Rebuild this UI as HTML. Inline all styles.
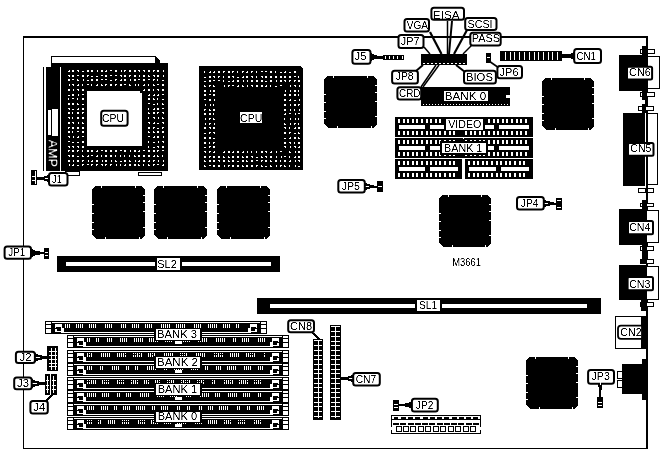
<!DOCTYPE html><html><head><meta charset="utf-8"><style>
html,body{margin:0;padding:0;background:#fff;width:661px;height:451px;overflow:hidden}
svg{display:block;will-change:transform}
text{font-family:"Liberation Sans",sans-serif}
</style></head><body>
<svg width="661" height="451" viewBox="0 0 661 451" shape-rendering="crispEdges">
<defs><filter id="th" x="-10%" y="-30%" width="120%" height="160%"><feComponentTransfer><feFuncA type="linear" slope="2" intercept="-0.5"/></feComponentTransfer></filter></defs>
<rect x="23" y="36" width="625" height="2" fill="#000"/>
<rect x="23" y="36" width="1" height="413" fill="#000"/>
<rect x="23" y="448" width="625" height="1" fill="#000"/>
<rect x="646" y="36" width="2" height="413" fill="#000"/>
<rect x="51" y="56" width="105" height="8" fill="#000"/>
<rect x="52" y="57" width="103" height="6" fill="#fff"/>
<polygon points="155,56 160,61 160,64 155,64" fill="#000"/>
<rect x="64" y="63" width="104" height="108" fill="#000"/>
<rect x="51" y="63" width="13" height="4" fill="#000"/>
<rect x="43" y="67" width="1" height="104" fill="#000"/>
<rect x="46" y="67" width="14" height="104" fill="#000"/>
<rect x="61" y="67" width="3" height="104" fill="#000"/>
<rect x="48" y="110" width="3" height="25" fill="#fff"/>
<rect x="52" y="109" width="6" height="27" fill="#fff"/>
<text x="53" y="153.4" font-size="13.2" fill="#fff" text-anchor="middle" filter="url(#th)" transform="rotate(90 53 153.4)" dy="4.75" textLength="27.5" lengthAdjust="spacingAndGlyphs">AMP</text>
<rect x="69" y="70" width="1" height="1" fill="#fff"/>
<rect x="68" y="71" width="1" height="1" fill="#fff"/>
<rect x="69" y="71" width="1" height="1" fill="#fff"/>
<rect x="72" y="70" width="2" height="2" fill="#fff"/>
<rect x="77" y="70" width="1" height="1" fill="#fff"/>
<rect x="78" y="70" width="1" height="1" fill="#fff"/>
<rect x="78" y="71" width="1" height="1" fill="#fff"/>
<rect x="82" y="71" width="1" height="1" fill="#fff"/>
<rect x="83" y="71" width="1" height="1" fill="#fff"/>
<rect x="87" y="70" width="2" height="2" fill="#fff"/>
<rect x="91" y="70" width="2" height="2" fill="#fff"/>
<rect x="97" y="70" width="1" height="1" fill="#fff"/>
<rect x="97" y="71" width="1" height="1" fill="#fff"/>
<rect x="101" y="70" width="2" height="2" fill="#fff"/>
<rect x="106" y="70" width="1" height="1" fill="#fff"/>
<rect x="105" y="71" width="1" height="1" fill="#fff"/>
<rect x="106" y="71" width="1" height="1" fill="#fff"/>
<rect x="110" y="70" width="1" height="1" fill="#fff"/>
<rect x="111" y="70" width="1" height="1" fill="#fff"/>
<rect x="115" y="70" width="2" height="2" fill="#fff"/>
<rect x="121" y="70" width="1" height="1" fill="#fff"/>
<rect x="121" y="71" width="1" height="1" fill="#fff"/>
<rect x="124" y="70" width="1" height="1" fill="#fff"/>
<rect x="125" y="70" width="1" height="1" fill="#fff"/>
<rect x="124" y="71" width="1" height="1" fill="#fff"/>
<rect x="129" y="70" width="2" height="2" fill="#fff"/>
<rect x="134" y="70" width="2" height="2" fill="#fff"/>
<rect x="138" y="70" width="1" height="1" fill="#fff"/>
<rect x="139" y="70" width="1" height="1" fill="#fff"/>
<rect x="139" y="71" width="1" height="1" fill="#fff"/>
<rect x="143" y="70" width="1" height="1" fill="#fff"/>
<rect x="144" y="70" width="1" height="1" fill="#fff"/>
<rect x="144" y="71" width="1" height="1" fill="#fff"/>
<rect x="148" y="70" width="2" height="2" fill="#fff"/>
<rect x="153" y="70" width="1" height="1" fill="#fff"/>
<rect x="154" y="70" width="1" height="1" fill="#fff"/>
<rect x="153" y="71" width="1" height="1" fill="#fff"/>
<rect x="157" y="70" width="2" height="2" fill="#fff"/>
<rect x="163" y="70" width="1" height="1" fill="#fff"/>
<rect x="163" y="71" width="1" height="1" fill="#fff"/>
<rect x="68" y="75" width="1" height="1" fill="#fff"/>
<rect x="69" y="75" width="1" height="1" fill="#fff"/>
<rect x="69" y="76" width="1" height="1" fill="#fff"/>
<rect x="72" y="75" width="2" height="2" fill="#fff"/>
<rect x="77" y="75" width="1" height="1" fill="#fff"/>
<rect x="78" y="75" width="1" height="1" fill="#fff"/>
<rect x="82" y="75" width="2" height="2" fill="#fff"/>
<rect x="87" y="75" width="1" height="1" fill="#fff"/>
<rect x="88" y="75" width="1" height="1" fill="#fff"/>
<rect x="87" y="76" width="1" height="1" fill="#fff"/>
<rect x="91" y="76" width="1" height="1" fill="#fff"/>
<rect x="92" y="76" width="1" height="1" fill="#fff"/>
<rect x="96" y="76" width="1" height="1" fill="#fff"/>
<rect x="97" y="76" width="1" height="1" fill="#fff"/>
<rect x="101" y="75" width="1" height="1" fill="#fff"/>
<rect x="102" y="75" width="1" height="1" fill="#fff"/>
<rect x="105" y="75" width="2" height="2" fill="#fff"/>
<rect x="110" y="75" width="1" height="1" fill="#fff"/>
<rect x="111" y="75" width="1" height="1" fill="#fff"/>
<rect x="115" y="75" width="1" height="1" fill="#fff"/>
<rect x="116" y="75" width="1" height="1" fill="#fff"/>
<rect x="120" y="75" width="1" height="1" fill="#fff"/>
<rect x="121" y="75" width="1" height="1" fill="#fff"/>
<rect x="121" y="76" width="1" height="1" fill="#fff"/>
<rect x="124" y="75" width="2" height="2" fill="#fff"/>
<rect x="129" y="75" width="1" height="1" fill="#fff"/>
<rect x="130" y="75" width="1" height="1" fill="#fff"/>
<rect x="129" y="76" width="1" height="1" fill="#fff"/>
<rect x="134" y="75" width="2" height="2" fill="#fff"/>
<rect x="139" y="75" width="1" height="1" fill="#fff"/>
<rect x="139" y="76" width="1" height="1" fill="#fff"/>
<rect x="143" y="75" width="2" height="2" fill="#fff"/>
<rect x="148" y="75" width="1" height="1" fill="#fff"/>
<rect x="148" y="76" width="1" height="1" fill="#fff"/>
<rect x="149" y="76" width="1" height="1" fill="#fff"/>
<rect x="153" y="75" width="1" height="1" fill="#fff"/>
<rect x="154" y="75" width="1" height="1" fill="#fff"/>
<rect x="154" y="76" width="1" height="1" fill="#fff"/>
<rect x="157" y="75" width="2" height="2" fill="#fff"/>
<rect x="163" y="75" width="1" height="1" fill="#fff"/>
<rect x="163" y="76" width="1" height="1" fill="#fff"/>
<rect x="68" y="79" width="2" height="2" fill="#fff"/>
<rect x="72" y="79" width="1" height="1" fill="#fff"/>
<rect x="73" y="79" width="1" height="1" fill="#fff"/>
<rect x="77" y="79" width="1" height="1" fill="#fff"/>
<rect x="77" y="80" width="1" height="1" fill="#fff"/>
<rect x="78" y="80" width="1" height="1" fill="#fff"/>
<rect x="83" y="79" width="1" height="1" fill="#fff"/>
<rect x="83" y="80" width="1" height="1" fill="#fff"/>
<rect x="87" y="80" width="1" height="1" fill="#fff"/>
<rect x="88" y="80" width="1" height="1" fill="#fff"/>
<rect x="91" y="79" width="2" height="2" fill="#fff"/>
<rect x="96" y="79" width="2" height="2" fill="#fff"/>
<rect x="101" y="79" width="1" height="1" fill="#fff"/>
<rect x="102" y="79" width="1" height="1" fill="#fff"/>
<rect x="105" y="79" width="1" height="1" fill="#fff"/>
<rect x="106" y="79" width="1" height="1" fill="#fff"/>
<rect x="110" y="80" width="1" height="1" fill="#fff"/>
<rect x="111" y="80" width="1" height="1" fill="#fff"/>
<rect x="115" y="79" width="1" height="1" fill="#fff"/>
<rect x="116" y="79" width="1" height="1" fill="#fff"/>
<rect x="115" y="80" width="1" height="1" fill="#fff"/>
<rect x="121" y="79" width="1" height="1" fill="#fff"/>
<rect x="120" y="80" width="1" height="1" fill="#fff"/>
<rect x="121" y="80" width="1" height="1" fill="#fff"/>
<rect x="124" y="79" width="2" height="2" fill="#fff"/>
<rect x="130" y="79" width="1" height="1" fill="#fff"/>
<rect x="130" y="80" width="1" height="1" fill="#fff"/>
<rect x="134" y="79" width="2" height="2" fill="#fff"/>
<rect x="138" y="79" width="1" height="1" fill="#fff"/>
<rect x="139" y="79" width="1" height="1" fill="#fff"/>
<rect x="143" y="79" width="2" height="2" fill="#fff"/>
<rect x="148" y="79" width="1" height="1" fill="#fff"/>
<rect x="149" y="79" width="1" height="1" fill="#fff"/>
<rect x="153" y="79" width="1" height="1" fill="#fff"/>
<rect x="154" y="79" width="1" height="1" fill="#fff"/>
<rect x="153" y="80" width="1" height="1" fill="#fff"/>
<rect x="157" y="79" width="1" height="1" fill="#fff"/>
<rect x="157" y="80" width="1" height="1" fill="#fff"/>
<rect x="162" y="80" width="1" height="1" fill="#fff"/>
<rect x="163" y="80" width="1" height="1" fill="#fff"/>
<rect x="69" y="84" width="1" height="1" fill="#fff"/>
<rect x="69" y="85" width="1" height="1" fill="#fff"/>
<rect x="72" y="84" width="1" height="1" fill="#fff"/>
<rect x="73" y="84" width="1" height="1" fill="#fff"/>
<rect x="73" y="85" width="1" height="1" fill="#fff"/>
<rect x="78" y="84" width="1" height="1" fill="#fff"/>
<rect x="77" y="85" width="1" height="1" fill="#fff"/>
<rect x="78" y="85" width="1" height="1" fill="#fff"/>
<rect x="82" y="84" width="1" height="1" fill="#fff"/>
<rect x="82" y="85" width="1" height="1" fill="#fff"/>
<rect x="87" y="84" width="1" height="1" fill="#fff"/>
<rect x="88" y="84" width="1" height="1" fill="#fff"/>
<rect x="91" y="84" width="1" height="1" fill="#fff"/>
<rect x="91" y="85" width="1" height="1" fill="#fff"/>
<rect x="97" y="84" width="1" height="1" fill="#fff"/>
<rect x="96" y="85" width="1" height="1" fill="#fff"/>
<rect x="97" y="85" width="1" height="1" fill="#fff"/>
<rect x="101" y="84" width="1" height="1" fill="#fff"/>
<rect x="101" y="85" width="1" height="1" fill="#fff"/>
<rect x="102" y="85" width="1" height="1" fill="#fff"/>
<rect x="105" y="84" width="1" height="1" fill="#fff"/>
<rect x="106" y="84" width="1" height="1" fill="#fff"/>
<rect x="105" y="85" width="1" height="1" fill="#fff"/>
<rect x="110" y="84" width="2" height="2" fill="#fff"/>
<rect x="115" y="84" width="1" height="1" fill="#fff"/>
<rect x="116" y="84" width="1" height="1" fill="#fff"/>
<rect x="115" y="85" width="1" height="1" fill="#fff"/>
<rect x="120" y="84" width="2" height="2" fill="#fff"/>
<rect x="124" y="84" width="1" height="1" fill="#fff"/>
<rect x="125" y="84" width="1" height="1" fill="#fff"/>
<rect x="129" y="84" width="1" height="1" fill="#fff"/>
<rect x="129" y="85" width="1" height="1" fill="#fff"/>
<rect x="130" y="85" width="1" height="1" fill="#fff"/>
<rect x="135" y="84" width="1" height="1" fill="#fff"/>
<rect x="135" y="85" width="1" height="1" fill="#fff"/>
<rect x="138" y="84" width="1" height="1" fill="#fff"/>
<rect x="138" y="85" width="1" height="1" fill="#fff"/>
<rect x="144" y="84" width="1" height="1" fill="#fff"/>
<rect x="143" y="85" width="1" height="1" fill="#fff"/>
<rect x="144" y="85" width="1" height="1" fill="#fff"/>
<rect x="148" y="84" width="1" height="1" fill="#fff"/>
<rect x="148" y="85" width="1" height="1" fill="#fff"/>
<rect x="153" y="84" width="1" height="1" fill="#fff"/>
<rect x="153" y="85" width="1" height="1" fill="#fff"/>
<rect x="154" y="85" width="1" height="1" fill="#fff"/>
<rect x="157" y="84" width="1" height="1" fill="#fff"/>
<rect x="158" y="84" width="1" height="1" fill="#fff"/>
<rect x="162" y="84" width="2" height="2" fill="#fff"/>
<rect x="68" y="89" width="2" height="2" fill="#fff"/>
<rect x="73" y="89" width="1" height="1" fill="#fff"/>
<rect x="73" y="90" width="1" height="1" fill="#fff"/>
<rect x="77" y="89" width="1" height="1" fill="#fff"/>
<rect x="78" y="89" width="1" height="1" fill="#fff"/>
<rect x="78" y="90" width="1" height="1" fill="#fff"/>
<rect x="82" y="89" width="2" height="2" fill="#fff"/>
<rect x="144" y="89" width="1" height="1" fill="#fff"/>
<rect x="143" y="90" width="1" height="1" fill="#fff"/>
<rect x="144" y="90" width="1" height="1" fill="#fff"/>
<rect x="148" y="89" width="2" height="2" fill="#fff"/>
<rect x="153" y="89" width="1" height="1" fill="#fff"/>
<rect x="153" y="90" width="1" height="1" fill="#fff"/>
<rect x="157" y="89" width="1" height="1" fill="#fff"/>
<rect x="158" y="89" width="1" height="1" fill="#fff"/>
<rect x="158" y="90" width="1" height="1" fill="#fff"/>
<rect x="162" y="89" width="2" height="2" fill="#fff"/>
<rect x="68" y="95" width="1" height="1" fill="#fff"/>
<rect x="69" y="95" width="1" height="1" fill="#fff"/>
<rect x="72" y="94" width="2" height="2" fill="#fff"/>
<rect x="78" y="94" width="1" height="1" fill="#fff"/>
<rect x="78" y="95" width="1" height="1" fill="#fff"/>
<rect x="82" y="94" width="1" height="1" fill="#fff"/>
<rect x="83" y="94" width="1" height="1" fill="#fff"/>
<rect x="149" y="94" width="1" height="1" fill="#fff"/>
<rect x="148" y="95" width="1" height="1" fill="#fff"/>
<rect x="149" y="95" width="1" height="1" fill="#fff"/>
<rect x="154" y="94" width="1" height="1" fill="#fff"/>
<rect x="153" y="95" width="1" height="1" fill="#fff"/>
<rect x="154" y="95" width="1" height="1" fill="#fff"/>
<rect x="158" y="94" width="1" height="1" fill="#fff"/>
<rect x="157" y="95" width="1" height="1" fill="#fff"/>
<rect x="158" y="95" width="1" height="1" fill="#fff"/>
<rect x="162" y="94" width="1" height="1" fill="#fff"/>
<rect x="163" y="94" width="1" height="1" fill="#fff"/>
<rect x="68" y="98" width="1" height="1" fill="#fff"/>
<rect x="68" y="99" width="1" height="1" fill="#fff"/>
<rect x="72" y="98" width="1" height="1" fill="#fff"/>
<rect x="73" y="98" width="1" height="1" fill="#fff"/>
<rect x="77" y="98" width="1" height="1" fill="#fff"/>
<rect x="77" y="99" width="1" height="1" fill="#fff"/>
<rect x="82" y="98" width="2" height="2" fill="#fff"/>
<rect x="148" y="98" width="2" height="2" fill="#fff"/>
<rect x="153" y="98" width="1" height="1" fill="#fff"/>
<rect x="153" y="99" width="1" height="1" fill="#fff"/>
<rect x="154" y="99" width="1" height="1" fill="#fff"/>
<rect x="157" y="98" width="1" height="1" fill="#fff"/>
<rect x="157" y="99" width="1" height="1" fill="#fff"/>
<rect x="162" y="99" width="1" height="1" fill="#fff"/>
<rect x="163" y="99" width="1" height="1" fill="#fff"/>
<rect x="68" y="103" width="2" height="2" fill="#fff"/>
<rect x="72" y="103" width="2" height="2" fill="#fff"/>
<rect x="77" y="103" width="1" height="1" fill="#fff"/>
<rect x="77" y="104" width="1" height="1" fill="#fff"/>
<rect x="78" y="104" width="1" height="1" fill="#fff"/>
<rect x="82" y="104" width="1" height="1" fill="#fff"/>
<rect x="83" y="104" width="1" height="1" fill="#fff"/>
<rect x="148" y="103" width="1" height="1" fill="#fff"/>
<rect x="149" y="103" width="1" height="1" fill="#fff"/>
<rect x="153" y="104" width="1" height="1" fill="#fff"/>
<rect x="154" y="104" width="1" height="1" fill="#fff"/>
<rect x="157" y="103" width="1" height="1" fill="#fff"/>
<rect x="157" y="104" width="1" height="1" fill="#fff"/>
<rect x="162" y="103" width="1" height="1" fill="#fff"/>
<rect x="162" y="104" width="1" height="1" fill="#fff"/>
<rect x="163" y="104" width="1" height="1" fill="#fff"/>
<rect x="68" y="108" width="1" height="1" fill="#fff"/>
<rect x="69" y="108" width="1" height="1" fill="#fff"/>
<rect x="69" y="109" width="1" height="1" fill="#fff"/>
<rect x="72" y="109" width="1" height="1" fill="#fff"/>
<rect x="73" y="109" width="1" height="1" fill="#fff"/>
<rect x="78" y="108" width="1" height="1" fill="#fff"/>
<rect x="77" y="109" width="1" height="1" fill="#fff"/>
<rect x="78" y="109" width="1" height="1" fill="#fff"/>
<rect x="82" y="108" width="2" height="2" fill="#fff"/>
<rect x="148" y="108" width="1" height="1" fill="#fff"/>
<rect x="148" y="109" width="1" height="1" fill="#fff"/>
<rect x="154" y="108" width="1" height="1" fill="#fff"/>
<rect x="153" y="109" width="1" height="1" fill="#fff"/>
<rect x="154" y="109" width="1" height="1" fill="#fff"/>
<rect x="157" y="108" width="2" height="2" fill="#fff"/>
<rect x="162" y="108" width="1" height="1" fill="#fff"/>
<rect x="163" y="108" width="1" height="1" fill="#fff"/>
<rect x="68" y="112" width="2" height="2" fill="#fff"/>
<rect x="72" y="112" width="1" height="1" fill="#fff"/>
<rect x="72" y="113" width="1" height="1" fill="#fff"/>
<rect x="77" y="112" width="2" height="2" fill="#fff"/>
<rect x="82" y="112" width="1" height="1" fill="#fff"/>
<rect x="83" y="112" width="1" height="1" fill="#fff"/>
<rect x="82" y="113" width="1" height="1" fill="#fff"/>
<rect x="148" y="112" width="1" height="1" fill="#fff"/>
<rect x="148" y="113" width="1" height="1" fill="#fff"/>
<rect x="149" y="113" width="1" height="1" fill="#fff"/>
<rect x="153" y="112" width="2" height="2" fill="#fff"/>
<rect x="157" y="112" width="1" height="1" fill="#fff"/>
<rect x="158" y="112" width="1" height="1" fill="#fff"/>
<rect x="157" y="113" width="1" height="1" fill="#fff"/>
<rect x="162" y="112" width="1" height="1" fill="#fff"/>
<rect x="163" y="112" width="1" height="1" fill="#fff"/>
<rect x="163" y="113" width="1" height="1" fill="#fff"/>
<rect x="68" y="117" width="1" height="1" fill="#fff"/>
<rect x="69" y="117" width="1" height="1" fill="#fff"/>
<rect x="69" y="118" width="1" height="1" fill="#fff"/>
<rect x="72" y="117" width="1" height="1" fill="#fff"/>
<rect x="72" y="118" width="1" height="1" fill="#fff"/>
<rect x="77" y="117" width="2" height="2" fill="#fff"/>
<rect x="82" y="117" width="2" height="2" fill="#fff"/>
<rect x="148" y="117" width="1" height="1" fill="#fff"/>
<rect x="148" y="118" width="1" height="1" fill="#fff"/>
<rect x="153" y="117" width="1" height="1" fill="#fff"/>
<rect x="154" y="117" width="1" height="1" fill="#fff"/>
<rect x="154" y="118" width="1" height="1" fill="#fff"/>
<rect x="158" y="117" width="1" height="1" fill="#fff"/>
<rect x="158" y="118" width="1" height="1" fill="#fff"/>
<rect x="162" y="117" width="1" height="1" fill="#fff"/>
<rect x="162" y="118" width="1" height="1" fill="#fff"/>
<rect x="163" y="118" width="1" height="1" fill="#fff"/>
<rect x="68" y="122" width="2" height="2" fill="#fff"/>
<rect x="72" y="122" width="1" height="1" fill="#fff"/>
<rect x="73" y="122" width="1" height="1" fill="#fff"/>
<rect x="73" y="123" width="1" height="1" fill="#fff"/>
<rect x="78" y="122" width="1" height="1" fill="#fff"/>
<rect x="78" y="123" width="1" height="1" fill="#fff"/>
<rect x="82" y="122" width="1" height="1" fill="#fff"/>
<rect x="82" y="123" width="1" height="1" fill="#fff"/>
<rect x="83" y="123" width="1" height="1" fill="#fff"/>
<rect x="148" y="122" width="1" height="1" fill="#fff"/>
<rect x="149" y="122" width="1" height="1" fill="#fff"/>
<rect x="149" y="123" width="1" height="1" fill="#fff"/>
<rect x="154" y="122" width="1" height="1" fill="#fff"/>
<rect x="153" y="123" width="1" height="1" fill="#fff"/>
<rect x="154" y="123" width="1" height="1" fill="#fff"/>
<rect x="157" y="123" width="1" height="1" fill="#fff"/>
<rect x="158" y="123" width="1" height="1" fill="#fff"/>
<rect x="162" y="122" width="1" height="1" fill="#fff"/>
<rect x="163" y="122" width="1" height="1" fill="#fff"/>
<rect x="163" y="123" width="1" height="1" fill="#fff"/>
<rect x="68" y="127" width="1" height="1" fill="#fff"/>
<rect x="69" y="127" width="1" height="1" fill="#fff"/>
<rect x="68" y="128" width="1" height="1" fill="#fff"/>
<rect x="72" y="127" width="2" height="2" fill="#fff"/>
<rect x="77" y="127" width="2" height="2" fill="#fff"/>
<rect x="82" y="127" width="2" height="2" fill="#fff"/>
<rect x="148" y="127" width="2" height="2" fill="#fff"/>
<rect x="153" y="127" width="1" height="1" fill="#fff"/>
<rect x="154" y="127" width="1" height="1" fill="#fff"/>
<rect x="153" y="128" width="1" height="1" fill="#fff"/>
<rect x="157" y="128" width="1" height="1" fill="#fff"/>
<rect x="158" y="128" width="1" height="1" fill="#fff"/>
<rect x="162" y="127" width="1" height="1" fill="#fff"/>
<rect x="163" y="127" width="1" height="1" fill="#fff"/>
<rect x="162" y="128" width="1" height="1" fill="#fff"/>
<rect x="68" y="131" width="2" height="2" fill="#fff"/>
<rect x="72" y="131" width="1" height="1" fill="#fff"/>
<rect x="72" y="132" width="1" height="1" fill="#fff"/>
<rect x="77" y="131" width="1" height="1" fill="#fff"/>
<rect x="78" y="131" width="1" height="1" fill="#fff"/>
<rect x="82" y="131" width="2" height="2" fill="#fff"/>
<rect x="148" y="131" width="1" height="1" fill="#fff"/>
<rect x="148" y="132" width="1" height="1" fill="#fff"/>
<rect x="149" y="132" width="1" height="1" fill="#fff"/>
<rect x="153" y="131" width="1" height="1" fill="#fff"/>
<rect x="153" y="132" width="1" height="1" fill="#fff"/>
<rect x="154" y="132" width="1" height="1" fill="#fff"/>
<rect x="157" y="131" width="2" height="2" fill="#fff"/>
<rect x="162" y="131" width="2" height="2" fill="#fff"/>
<rect x="68" y="136" width="1" height="1" fill="#fff"/>
<rect x="69" y="136" width="1" height="1" fill="#fff"/>
<rect x="69" y="137" width="1" height="1" fill="#fff"/>
<rect x="73" y="136" width="1" height="1" fill="#fff"/>
<rect x="73" y="137" width="1" height="1" fill="#fff"/>
<rect x="78" y="136" width="1" height="1" fill="#fff"/>
<rect x="77" y="137" width="1" height="1" fill="#fff"/>
<rect x="78" y="137" width="1" height="1" fill="#fff"/>
<rect x="82" y="136" width="1" height="1" fill="#fff"/>
<rect x="83" y="136" width="1" height="1" fill="#fff"/>
<rect x="148" y="136" width="1" height="1" fill="#fff"/>
<rect x="149" y="136" width="1" height="1" fill="#fff"/>
<rect x="154" y="136" width="1" height="1" fill="#fff"/>
<rect x="153" y="137" width="1" height="1" fill="#fff"/>
<rect x="154" y="137" width="1" height="1" fill="#fff"/>
<rect x="157" y="136" width="2" height="2" fill="#fff"/>
<rect x="163" y="136" width="1" height="1" fill="#fff"/>
<rect x="163" y="137" width="1" height="1" fill="#fff"/>
<rect x="68" y="141" width="1" height="1" fill="#fff"/>
<rect x="69" y="141" width="1" height="1" fill="#fff"/>
<rect x="72" y="142" width="1" height="1" fill="#fff"/>
<rect x="73" y="142" width="1" height="1" fill="#fff"/>
<rect x="77" y="142" width="1" height="1" fill="#fff"/>
<rect x="78" y="142" width="1" height="1" fill="#fff"/>
<rect x="82" y="141" width="2" height="2" fill="#fff"/>
<rect x="148" y="141" width="1" height="1" fill="#fff"/>
<rect x="148" y="142" width="1" height="1" fill="#fff"/>
<rect x="153" y="142" width="1" height="1" fill="#fff"/>
<rect x="154" y="142" width="1" height="1" fill="#fff"/>
<rect x="158" y="141" width="1" height="1" fill="#fff"/>
<rect x="158" y="142" width="1" height="1" fill="#fff"/>
<rect x="162" y="141" width="1" height="1" fill="#fff"/>
<rect x="163" y="141" width="1" height="1" fill="#fff"/>
<rect x="163" y="142" width="1" height="1" fill="#fff"/>
<rect x="68" y="146" width="1" height="1" fill="#fff"/>
<rect x="69" y="146" width="1" height="1" fill="#fff"/>
<rect x="69" y="147" width="1" height="1" fill="#fff"/>
<rect x="72" y="146" width="1" height="1" fill="#fff"/>
<rect x="73" y="146" width="1" height="1" fill="#fff"/>
<rect x="73" y="147" width="1" height="1" fill="#fff"/>
<rect x="77" y="146" width="1" height="1" fill="#fff"/>
<rect x="78" y="146" width="1" height="1" fill="#fff"/>
<rect x="78" y="147" width="1" height="1" fill="#fff"/>
<rect x="82" y="146" width="2" height="2" fill="#fff"/>
<rect x="148" y="146" width="1" height="1" fill="#fff"/>
<rect x="148" y="147" width="1" height="1" fill="#fff"/>
<rect x="153" y="147" width="1" height="1" fill="#fff"/>
<rect x="154" y="147" width="1" height="1" fill="#fff"/>
<rect x="157" y="146" width="1" height="1" fill="#fff"/>
<rect x="158" y="146" width="1" height="1" fill="#fff"/>
<rect x="158" y="147" width="1" height="1" fill="#fff"/>
<rect x="162" y="146" width="2" height="2" fill="#fff"/>
<rect x="68" y="150" width="1" height="1" fill="#fff"/>
<rect x="69" y="150" width="1" height="1" fill="#fff"/>
<rect x="68" y="151" width="1" height="1" fill="#fff"/>
<rect x="72" y="150" width="2" height="2" fill="#fff"/>
<rect x="77" y="150" width="1" height="1" fill="#fff"/>
<rect x="78" y="150" width="1" height="1" fill="#fff"/>
<rect x="77" y="151" width="1" height="1" fill="#fff"/>
<rect x="82" y="150" width="1" height="1" fill="#fff"/>
<rect x="82" y="151" width="1" height="1" fill="#fff"/>
<rect x="87" y="150" width="2" height="2" fill="#fff"/>
<rect x="91" y="150" width="2" height="2" fill="#fff"/>
<rect x="97" y="150" width="1" height="1" fill="#fff"/>
<rect x="96" y="151" width="1" height="1" fill="#fff"/>
<rect x="97" y="151" width="1" height="1" fill="#fff"/>
<rect x="101" y="150" width="1" height="1" fill="#fff"/>
<rect x="102" y="150" width="1" height="1" fill="#fff"/>
<rect x="105" y="150" width="2" height="2" fill="#fff"/>
<rect x="110" y="150" width="2" height="2" fill="#fff"/>
<rect x="115" y="150" width="2" height="2" fill="#fff"/>
<rect x="120" y="150" width="1" height="1" fill="#fff"/>
<rect x="121" y="150" width="1" height="1" fill="#fff"/>
<rect x="124" y="150" width="2" height="2" fill="#fff"/>
<rect x="130" y="150" width="1" height="1" fill="#fff"/>
<rect x="130" y="151" width="1" height="1" fill="#fff"/>
<rect x="134" y="150" width="2" height="2" fill="#fff"/>
<rect x="139" y="150" width="1" height="1" fill="#fff"/>
<rect x="138" y="151" width="1" height="1" fill="#fff"/>
<rect x="139" y="151" width="1" height="1" fill="#fff"/>
<rect x="143" y="150" width="1" height="1" fill="#fff"/>
<rect x="144" y="150" width="1" height="1" fill="#fff"/>
<rect x="148" y="150" width="2" height="2" fill="#fff"/>
<rect x="153" y="150" width="2" height="2" fill="#fff"/>
<rect x="157" y="150" width="1" height="1" fill="#fff"/>
<rect x="158" y="150" width="1" height="1" fill="#fff"/>
<rect x="157" y="151" width="1" height="1" fill="#fff"/>
<rect x="162" y="150" width="1" height="1" fill="#fff"/>
<rect x="163" y="150" width="1" height="1" fill="#fff"/>
<rect x="68" y="155" width="1" height="1" fill="#fff"/>
<rect x="69" y="155" width="1" height="1" fill="#fff"/>
<rect x="69" y="156" width="1" height="1" fill="#fff"/>
<rect x="72" y="155" width="2" height="2" fill="#fff"/>
<rect x="77" y="156" width="1" height="1" fill="#fff"/>
<rect x="78" y="156" width="1" height="1" fill="#fff"/>
<rect x="82" y="155" width="1" height="1" fill="#fff"/>
<rect x="82" y="156" width="1" height="1" fill="#fff"/>
<rect x="83" y="156" width="1" height="1" fill="#fff"/>
<rect x="88" y="155" width="1" height="1" fill="#fff"/>
<rect x="87" y="156" width="1" height="1" fill="#fff"/>
<rect x="88" y="156" width="1" height="1" fill="#fff"/>
<rect x="91" y="155" width="1" height="1" fill="#fff"/>
<rect x="92" y="155" width="1" height="1" fill="#fff"/>
<rect x="97" y="155" width="1" height="1" fill="#fff"/>
<rect x="96" y="156" width="1" height="1" fill="#fff"/>
<rect x="97" y="156" width="1" height="1" fill="#fff"/>
<rect x="101" y="155" width="1" height="1" fill="#fff"/>
<rect x="101" y="156" width="1" height="1" fill="#fff"/>
<rect x="105" y="155" width="2" height="2" fill="#fff"/>
<rect x="110" y="155" width="2" height="2" fill="#fff"/>
<rect x="115" y="155" width="1" height="1" fill="#fff"/>
<rect x="115" y="156" width="1" height="1" fill="#fff"/>
<rect x="120" y="155" width="1" height="1" fill="#fff"/>
<rect x="120" y="156" width="1" height="1" fill="#fff"/>
<rect x="124" y="155" width="1" height="1" fill="#fff"/>
<rect x="124" y="156" width="1" height="1" fill="#fff"/>
<rect x="129" y="155" width="1" height="1" fill="#fff"/>
<rect x="129" y="156" width="1" height="1" fill="#fff"/>
<rect x="134" y="155" width="1" height="1" fill="#fff"/>
<rect x="134" y="156" width="1" height="1" fill="#fff"/>
<rect x="135" y="156" width="1" height="1" fill="#fff"/>
<rect x="138" y="155" width="2" height="2" fill="#fff"/>
<rect x="143" y="155" width="2" height="2" fill="#fff"/>
<rect x="148" y="155" width="2" height="2" fill="#fff"/>
<rect x="154" y="155" width="1" height="1" fill="#fff"/>
<rect x="153" y="156" width="1" height="1" fill="#fff"/>
<rect x="154" y="156" width="1" height="1" fill="#fff"/>
<rect x="157" y="155" width="1" height="1" fill="#fff"/>
<rect x="157" y="156" width="1" height="1" fill="#fff"/>
<rect x="158" y="156" width="1" height="1" fill="#fff"/>
<rect x="162" y="155" width="1" height="1" fill="#fff"/>
<rect x="162" y="156" width="1" height="1" fill="#fff"/>
<rect x="68" y="160" width="2" height="2" fill="#fff"/>
<rect x="73" y="160" width="1" height="1" fill="#fff"/>
<rect x="73" y="161" width="1" height="1" fill="#fff"/>
<rect x="77" y="160" width="2" height="2" fill="#fff"/>
<rect x="82" y="160" width="1" height="1" fill="#fff"/>
<rect x="83" y="160" width="1" height="1" fill="#fff"/>
<rect x="82" y="161" width="1" height="1" fill="#fff"/>
<rect x="88" y="160" width="1" height="1" fill="#fff"/>
<rect x="88" y="161" width="1" height="1" fill="#fff"/>
<rect x="92" y="160" width="1" height="1" fill="#fff"/>
<rect x="91" y="161" width="1" height="1" fill="#fff"/>
<rect x="92" y="161" width="1" height="1" fill="#fff"/>
<rect x="96" y="160" width="2" height="2" fill="#fff"/>
<rect x="102" y="160" width="1" height="1" fill="#fff"/>
<rect x="102" y="161" width="1" height="1" fill="#fff"/>
<rect x="105" y="160" width="2" height="2" fill="#fff"/>
<rect x="111" y="160" width="1" height="1" fill="#fff"/>
<rect x="111" y="161" width="1" height="1" fill="#fff"/>
<rect x="115" y="160" width="1" height="1" fill="#fff"/>
<rect x="115" y="161" width="1" height="1" fill="#fff"/>
<rect x="116" y="161" width="1" height="1" fill="#fff"/>
<rect x="120" y="161" width="1" height="1" fill="#fff"/>
<rect x="121" y="161" width="1" height="1" fill="#fff"/>
<rect x="124" y="160" width="2" height="2" fill="#fff"/>
<rect x="129" y="160" width="1" height="1" fill="#fff"/>
<rect x="129" y="161" width="1" height="1" fill="#fff"/>
<rect x="130" y="161" width="1" height="1" fill="#fff"/>
<rect x="135" y="160" width="1" height="1" fill="#fff"/>
<rect x="135" y="161" width="1" height="1" fill="#fff"/>
<rect x="139" y="160" width="1" height="1" fill="#fff"/>
<rect x="138" y="161" width="1" height="1" fill="#fff"/>
<rect x="139" y="161" width="1" height="1" fill="#fff"/>
<rect x="143" y="160" width="2" height="2" fill="#fff"/>
<rect x="149" y="160" width="1" height="1" fill="#fff"/>
<rect x="148" y="161" width="1" height="1" fill="#fff"/>
<rect x="149" y="161" width="1" height="1" fill="#fff"/>
<rect x="153" y="160" width="1" height="1" fill="#fff"/>
<rect x="154" y="160" width="1" height="1" fill="#fff"/>
<rect x="153" y="161" width="1" height="1" fill="#fff"/>
<rect x="158" y="160" width="1" height="1" fill="#fff"/>
<rect x="158" y="161" width="1" height="1" fill="#fff"/>
<rect x="163" y="160" width="1" height="1" fill="#fff"/>
<rect x="163" y="161" width="1" height="1" fill="#fff"/>
<rect x="69" y="164" width="1" height="1" fill="#fff"/>
<rect x="69" y="165" width="1" height="1" fill="#fff"/>
<rect x="73" y="164" width="1" height="1" fill="#fff"/>
<rect x="72" y="165" width="1" height="1" fill="#fff"/>
<rect x="73" y="165" width="1" height="1" fill="#fff"/>
<rect x="77" y="165" width="1" height="1" fill="#fff"/>
<rect x="78" y="165" width="1" height="1" fill="#fff"/>
<rect x="82" y="164" width="1" height="1" fill="#fff"/>
<rect x="83" y="164" width="1" height="1" fill="#fff"/>
<rect x="82" y="165" width="1" height="1" fill="#fff"/>
<rect x="87" y="164" width="1" height="1" fill="#fff"/>
<rect x="88" y="164" width="1" height="1" fill="#fff"/>
<rect x="91" y="164" width="1" height="1" fill="#fff"/>
<rect x="92" y="164" width="1" height="1" fill="#fff"/>
<rect x="91" y="165" width="1" height="1" fill="#fff"/>
<rect x="96" y="164" width="1" height="1" fill="#fff"/>
<rect x="97" y="164" width="1" height="1" fill="#fff"/>
<rect x="96" y="165" width="1" height="1" fill="#fff"/>
<rect x="101" y="164" width="1" height="1" fill="#fff"/>
<rect x="102" y="164" width="1" height="1" fill="#fff"/>
<rect x="102" y="165" width="1" height="1" fill="#fff"/>
<rect x="105" y="164" width="1" height="1" fill="#fff"/>
<rect x="106" y="164" width="1" height="1" fill="#fff"/>
<rect x="105" y="165" width="1" height="1" fill="#fff"/>
<rect x="110" y="164" width="1" height="1" fill="#fff"/>
<rect x="111" y="164" width="1" height="1" fill="#fff"/>
<rect x="110" y="165" width="1" height="1" fill="#fff"/>
<rect x="116" y="164" width="1" height="1" fill="#fff"/>
<rect x="116" y="165" width="1" height="1" fill="#fff"/>
<rect x="120" y="164" width="1" height="1" fill="#fff"/>
<rect x="120" y="165" width="1" height="1" fill="#fff"/>
<rect x="125" y="164" width="1" height="1" fill="#fff"/>
<rect x="124" y="165" width="1" height="1" fill="#fff"/>
<rect x="125" y="165" width="1" height="1" fill="#fff"/>
<rect x="129" y="164" width="2" height="2" fill="#fff"/>
<rect x="134" y="164" width="2" height="2" fill="#fff"/>
<rect x="138" y="164" width="1" height="1" fill="#fff"/>
<rect x="138" y="165" width="1" height="1" fill="#fff"/>
<rect x="139" y="165" width="1" height="1" fill="#fff"/>
<rect x="143" y="164" width="1" height="1" fill="#fff"/>
<rect x="143" y="165" width="1" height="1" fill="#fff"/>
<rect x="148" y="164" width="1" height="1" fill="#fff"/>
<rect x="148" y="165" width="1" height="1" fill="#fff"/>
<rect x="149" y="165" width="1" height="1" fill="#fff"/>
<rect x="153" y="164" width="1" height="1" fill="#fff"/>
<rect x="154" y="164" width="1" height="1" fill="#fff"/>
<rect x="153" y="165" width="1" height="1" fill="#fff"/>
<rect x="157" y="164" width="1" height="1" fill="#fff"/>
<rect x="158" y="164" width="1" height="1" fill="#fff"/>
<rect x="163" y="164" width="1" height="1" fill="#fff"/>
<rect x="162" y="165" width="1" height="1" fill="#fff"/>
<rect x="163" y="165" width="1" height="1" fill="#fff"/>
<rect x="87" y="91" width="55" height="55" fill="#fff"/>
<rect x="140" y="91" width="2" height="2" fill="#000"/>
<rect x="101.20" y="110.70" width="26.40" height="15.00" rx="2.5" fill="#fff" stroke="#000" stroke-width="2" shape-rendering="auto"/>
<text x="102.07" y="121.80" font-size="11.20" fill="#000" textLength="21.93" lengthAdjust="spacingAndGlyphs" filter="url(#th)" >CPU</text>
<rect x="65" y="171" width="15" height="5" fill="#000"/>
<rect x="66" y="172" width="13" height="3" fill="#fff"/>
<rect x="138" y="172" width="24" height="4" fill="#000"/>
<rect x="139" y="173" width="22" height="2" fill="#fff"/>
<polygon points="199,66 300,66 303,69 303,170 199,170" fill="#000"/>
<rect x="204" y="71" width="1" height="1" fill="#fff"/>
<rect x="204" y="72" width="1" height="1" fill="#fff"/>
<rect x="210" y="71" width="1" height="1" fill="#fff"/>
<rect x="209" y="72" width="1" height="1" fill="#fff"/>
<rect x="210" y="72" width="1" height="1" fill="#fff"/>
<rect x="214" y="71" width="1" height="1" fill="#fff"/>
<rect x="213" y="72" width="1" height="1" fill="#fff"/>
<rect x="214" y="72" width="1" height="1" fill="#fff"/>
<rect x="218" y="71" width="2" height="2" fill="#fff"/>
<rect x="223" y="71" width="1" height="1" fill="#fff"/>
<rect x="224" y="71" width="1" height="1" fill="#fff"/>
<rect x="223" y="72" width="1" height="1" fill="#fff"/>
<rect x="228" y="71" width="2" height="2" fill="#fff"/>
<rect x="232" y="71" width="1" height="1" fill="#fff"/>
<rect x="233" y="71" width="1" height="1" fill="#fff"/>
<rect x="232" y="72" width="1" height="1" fill="#fff"/>
<rect x="237" y="71" width="1" height="1" fill="#fff"/>
<rect x="237" y="72" width="1" height="1" fill="#fff"/>
<rect x="242" y="71" width="1" height="1" fill="#fff"/>
<rect x="243" y="71" width="1" height="1" fill="#fff"/>
<rect x="242" y="72" width="1" height="1" fill="#fff"/>
<rect x="247" y="71" width="1" height="1" fill="#fff"/>
<rect x="246" y="72" width="1" height="1" fill="#fff"/>
<rect x="247" y="72" width="1" height="1" fill="#fff"/>
<rect x="251" y="71" width="1" height="1" fill="#fff"/>
<rect x="252" y="71" width="1" height="1" fill="#fff"/>
<rect x="251" y="72" width="1" height="1" fill="#fff"/>
<rect x="256" y="71" width="1" height="1" fill="#fff"/>
<rect x="256" y="72" width="1" height="1" fill="#fff"/>
<rect x="261" y="71" width="1" height="1" fill="#fff"/>
<rect x="262" y="71" width="1" height="1" fill="#fff"/>
<rect x="265" y="71" width="1" height="1" fill="#fff"/>
<rect x="266" y="71" width="1" height="1" fill="#fff"/>
<rect x="270" y="71" width="2" height="2" fill="#fff"/>
<rect x="275" y="71" width="1" height="1" fill="#fff"/>
<rect x="275" y="72" width="1" height="1" fill="#fff"/>
<rect x="280" y="72" width="1" height="1" fill="#fff"/>
<rect x="281" y="72" width="1" height="1" fill="#fff"/>
<rect x="285" y="71" width="1" height="1" fill="#fff"/>
<rect x="284" y="72" width="1" height="1" fill="#fff"/>
<rect x="285" y="72" width="1" height="1" fill="#fff"/>
<rect x="289" y="72" width="1" height="1" fill="#fff"/>
<rect x="290" y="72" width="1" height="1" fill="#fff"/>
<rect x="294" y="71" width="2" height="2" fill="#fff"/>
<rect x="204" y="77" width="1" height="1" fill="#fff"/>
<rect x="205" y="77" width="1" height="1" fill="#fff"/>
<rect x="209" y="76" width="2" height="2" fill="#fff"/>
<rect x="213" y="76" width="1" height="1" fill="#fff"/>
<rect x="214" y="76" width="1" height="1" fill="#fff"/>
<rect x="214" y="77" width="1" height="1" fill="#fff"/>
<rect x="218" y="76" width="1" height="1" fill="#fff"/>
<rect x="219" y="76" width="1" height="1" fill="#fff"/>
<rect x="218" y="77" width="1" height="1" fill="#fff"/>
<rect x="223" y="76" width="1" height="1" fill="#fff"/>
<rect x="223" y="77" width="1" height="1" fill="#fff"/>
<rect x="228" y="76" width="2" height="2" fill="#fff"/>
<rect x="232" y="76" width="1" height="1" fill="#fff"/>
<rect x="233" y="76" width="1" height="1" fill="#fff"/>
<rect x="233" y="77" width="1" height="1" fill="#fff"/>
<rect x="237" y="77" width="1" height="1" fill="#fff"/>
<rect x="238" y="77" width="1" height="1" fill="#fff"/>
<rect x="243" y="76" width="1" height="1" fill="#fff"/>
<rect x="242" y="77" width="1" height="1" fill="#fff"/>
<rect x="243" y="77" width="1" height="1" fill="#fff"/>
<rect x="246" y="76" width="2" height="2" fill="#fff"/>
<rect x="251" y="76" width="1" height="1" fill="#fff"/>
<rect x="252" y="76" width="1" height="1" fill="#fff"/>
<rect x="252" y="77" width="1" height="1" fill="#fff"/>
<rect x="256" y="76" width="1" height="1" fill="#fff"/>
<rect x="256" y="77" width="1" height="1" fill="#fff"/>
<rect x="261" y="76" width="1" height="1" fill="#fff"/>
<rect x="262" y="76" width="1" height="1" fill="#fff"/>
<rect x="262" y="77" width="1" height="1" fill="#fff"/>
<rect x="265" y="76" width="2" height="2" fill="#fff"/>
<rect x="270" y="76" width="2" height="2" fill="#fff"/>
<rect x="275" y="76" width="2" height="2" fill="#fff"/>
<rect x="280" y="76" width="2" height="2" fill="#fff"/>
<rect x="284" y="76" width="2" height="2" fill="#fff"/>
<rect x="289" y="76" width="2" height="2" fill="#fff"/>
<rect x="294" y="76" width="1" height="1" fill="#fff"/>
<rect x="295" y="76" width="1" height="1" fill="#fff"/>
<rect x="298" y="76" width="1" height="1" fill="#fff"/>
<rect x="298" y="77" width="1" height="1" fill="#fff"/>
<rect x="204" y="81" width="1" height="1" fill="#fff"/>
<rect x="205" y="81" width="1" height="1" fill="#fff"/>
<rect x="209" y="80" width="2" height="2" fill="#fff"/>
<rect x="213" y="80" width="1" height="1" fill="#fff"/>
<rect x="214" y="80" width="1" height="1" fill="#fff"/>
<rect x="218" y="80" width="1" height="1" fill="#fff"/>
<rect x="219" y="80" width="1" height="1" fill="#fff"/>
<rect x="223" y="80" width="1" height="1" fill="#fff"/>
<rect x="223" y="81" width="1" height="1" fill="#fff"/>
<rect x="228" y="81" width="1" height="1" fill="#fff"/>
<rect x="229" y="81" width="1" height="1" fill="#fff"/>
<rect x="233" y="80" width="1" height="1" fill="#fff"/>
<rect x="232" y="81" width="1" height="1" fill="#fff"/>
<rect x="233" y="81" width="1" height="1" fill="#fff"/>
<rect x="237" y="80" width="2" height="2" fill="#fff"/>
<rect x="243" y="80" width="1" height="1" fill="#fff"/>
<rect x="243" y="81" width="1" height="1" fill="#fff"/>
<rect x="247" y="80" width="1" height="1" fill="#fff"/>
<rect x="247" y="81" width="1" height="1" fill="#fff"/>
<rect x="251" y="80" width="2" height="2" fill="#fff"/>
<rect x="256" y="80" width="2" height="2" fill="#fff"/>
<rect x="261" y="80" width="2" height="2" fill="#fff"/>
<rect x="265" y="81" width="1" height="1" fill="#fff"/>
<rect x="266" y="81" width="1" height="1" fill="#fff"/>
<rect x="270" y="80" width="2" height="2" fill="#fff"/>
<rect x="276" y="80" width="1" height="1" fill="#fff"/>
<rect x="276" y="81" width="1" height="1" fill="#fff"/>
<rect x="280" y="80" width="2" height="2" fill="#fff"/>
<rect x="284" y="80" width="1" height="1" fill="#fff"/>
<rect x="285" y="80" width="1" height="1" fill="#fff"/>
<rect x="285" y="81" width="1" height="1" fill="#fff"/>
<rect x="289" y="80" width="1" height="1" fill="#fff"/>
<rect x="290" y="80" width="1" height="1" fill="#fff"/>
<rect x="289" y="81" width="1" height="1" fill="#fff"/>
<rect x="294" y="80" width="1" height="1" fill="#fff"/>
<rect x="295" y="80" width="1" height="1" fill="#fff"/>
<rect x="294" y="81" width="1" height="1" fill="#fff"/>
<rect x="298" y="80" width="2" height="2" fill="#fff"/>
<rect x="204" y="85" width="1" height="1" fill="#fff"/>
<rect x="204" y="86" width="1" height="1" fill="#fff"/>
<rect x="205" y="86" width="1" height="1" fill="#fff"/>
<rect x="209" y="85" width="1" height="1" fill="#fff"/>
<rect x="210" y="85" width="1" height="1" fill="#fff"/>
<rect x="209" y="86" width="1" height="1" fill="#fff"/>
<rect x="213" y="85" width="1" height="1" fill="#fff"/>
<rect x="213" y="86" width="1" height="1" fill="#fff"/>
<rect x="214" y="86" width="1" height="1" fill="#fff"/>
<rect x="224" y="85" width="1" height="1" fill="#fff"/>
<rect x="224" y="86" width="1" height="1" fill="#fff"/>
<rect x="228" y="85" width="1" height="1" fill="#fff"/>
<rect x="229" y="85" width="1" height="1" fill="#fff"/>
<rect x="228" y="86" width="1" height="1" fill="#fff"/>
<rect x="232" y="85" width="1" height="1" fill="#fff"/>
<rect x="233" y="85" width="1" height="1" fill="#fff"/>
<rect x="238" y="85" width="1" height="1" fill="#fff"/>
<rect x="237" y="86" width="1" height="1" fill="#fff"/>
<rect x="238" y="86" width="1" height="1" fill="#fff"/>
<rect x="242" y="85" width="1" height="1" fill="#fff"/>
<rect x="242" y="86" width="1" height="1" fill="#fff"/>
<rect x="243" y="86" width="1" height="1" fill="#fff"/>
<rect x="247" y="85" width="1" height="1" fill="#fff"/>
<rect x="247" y="86" width="1" height="1" fill="#fff"/>
<rect x="251" y="85" width="1" height="1" fill="#fff"/>
<rect x="252" y="85" width="1" height="1" fill="#fff"/>
<rect x="252" y="86" width="1" height="1" fill="#fff"/>
<rect x="256" y="85" width="2" height="2" fill="#fff"/>
<rect x="261" y="85" width="2" height="2" fill="#fff"/>
<rect x="266" y="85" width="1" height="1" fill="#fff"/>
<rect x="265" y="86" width="1" height="1" fill="#fff"/>
<rect x="266" y="86" width="1" height="1" fill="#fff"/>
<rect x="270" y="85" width="1" height="1" fill="#fff"/>
<rect x="270" y="86" width="1" height="1" fill="#fff"/>
<rect x="275" y="86" width="1" height="1" fill="#fff"/>
<rect x="276" y="86" width="1" height="1" fill="#fff"/>
<rect x="280" y="85" width="1" height="1" fill="#fff"/>
<rect x="281" y="85" width="1" height="1" fill="#fff"/>
<rect x="290" y="85" width="1" height="1" fill="#fff"/>
<rect x="290" y="86" width="1" height="1" fill="#fff"/>
<rect x="294" y="85" width="1" height="1" fill="#fff"/>
<rect x="295" y="85" width="1" height="1" fill="#fff"/>
<rect x="295" y="86" width="1" height="1" fill="#fff"/>
<rect x="299" y="85" width="1" height="1" fill="#fff"/>
<rect x="299" y="86" width="1" height="1" fill="#fff"/>
<rect x="204" y="90" width="2" height="2" fill="#fff"/>
<rect x="210" y="90" width="1" height="1" fill="#fff"/>
<rect x="210" y="91" width="1" height="1" fill="#fff"/>
<rect x="213" y="90" width="2" height="2" fill="#fff"/>
<rect x="285" y="90" width="1" height="1" fill="#fff"/>
<rect x="285" y="91" width="1" height="1" fill="#fff"/>
<rect x="290" y="90" width="1" height="1" fill="#fff"/>
<rect x="290" y="91" width="1" height="1" fill="#fff"/>
<rect x="294" y="90" width="2" height="2" fill="#fff"/>
<rect x="298" y="90" width="1" height="1" fill="#fff"/>
<rect x="298" y="91" width="1" height="1" fill="#fff"/>
<rect x="204" y="94" width="2" height="2" fill="#fff"/>
<rect x="209" y="94" width="1" height="1" fill="#fff"/>
<rect x="210" y="94" width="1" height="1" fill="#fff"/>
<rect x="213" y="94" width="2" height="2" fill="#fff"/>
<rect x="284" y="94" width="2" height="2" fill="#fff"/>
<rect x="289" y="94" width="2" height="2" fill="#fff"/>
<rect x="294" y="94" width="2" height="2" fill="#fff"/>
<rect x="298" y="94" width="1" height="1" fill="#fff"/>
<rect x="298" y="95" width="1" height="1" fill="#fff"/>
<rect x="204" y="99" width="1" height="1" fill="#fff"/>
<rect x="205" y="99" width="1" height="1" fill="#fff"/>
<rect x="209" y="99" width="2" height="2" fill="#fff"/>
<rect x="214" y="99" width="1" height="1" fill="#fff"/>
<rect x="214" y="100" width="1" height="1" fill="#fff"/>
<rect x="284" y="99" width="2" height="2" fill="#fff"/>
<rect x="290" y="99" width="1" height="1" fill="#fff"/>
<rect x="289" y="100" width="1" height="1" fill="#fff"/>
<rect x="290" y="100" width="1" height="1" fill="#fff"/>
<rect x="294" y="100" width="1" height="1" fill="#fff"/>
<rect x="295" y="100" width="1" height="1" fill="#fff"/>
<rect x="299" y="99" width="1" height="1" fill="#fff"/>
<rect x="299" y="100" width="1" height="1" fill="#fff"/>
<rect x="205" y="104" width="1" height="1" fill="#fff"/>
<rect x="205" y="105" width="1" height="1" fill="#fff"/>
<rect x="210" y="104" width="1" height="1" fill="#fff"/>
<rect x="210" y="105" width="1" height="1" fill="#fff"/>
<rect x="213" y="104" width="1" height="1" fill="#fff"/>
<rect x="213" y="105" width="1" height="1" fill="#fff"/>
<rect x="284" y="104" width="2" height="2" fill="#fff"/>
<rect x="290" y="104" width="1" height="1" fill="#fff"/>
<rect x="290" y="105" width="1" height="1" fill="#fff"/>
<rect x="294" y="104" width="2" height="2" fill="#fff"/>
<rect x="298" y="104" width="1" height="1" fill="#fff"/>
<rect x="299" y="104" width="1" height="1" fill="#fff"/>
<rect x="298" y="105" width="1" height="1" fill="#fff"/>
<rect x="204" y="109" width="1" height="1" fill="#fff"/>
<rect x="205" y="109" width="1" height="1" fill="#fff"/>
<rect x="204" y="110" width="1" height="1" fill="#fff"/>
<rect x="209" y="109" width="1" height="1" fill="#fff"/>
<rect x="209" y="110" width="1" height="1" fill="#fff"/>
<rect x="210" y="110" width="1" height="1" fill="#fff"/>
<rect x="213" y="109" width="2" height="2" fill="#fff"/>
<rect x="284" y="109" width="2" height="2" fill="#fff"/>
<rect x="290" y="109" width="1" height="1" fill="#fff"/>
<rect x="290" y="110" width="1" height="1" fill="#fff"/>
<rect x="294" y="109" width="1" height="1" fill="#fff"/>
<rect x="294" y="110" width="1" height="1" fill="#fff"/>
<rect x="299" y="109" width="1" height="1" fill="#fff"/>
<rect x="299" y="110" width="1" height="1" fill="#fff"/>
<rect x="204" y="113" width="2" height="2" fill="#fff"/>
<rect x="209" y="113" width="2" height="2" fill="#fff"/>
<rect x="213" y="113" width="1" height="1" fill="#fff"/>
<rect x="213" y="114" width="1" height="1" fill="#fff"/>
<rect x="285" y="113" width="1" height="1" fill="#fff"/>
<rect x="284" y="114" width="1" height="1" fill="#fff"/>
<rect x="285" y="114" width="1" height="1" fill="#fff"/>
<rect x="289" y="113" width="1" height="1" fill="#fff"/>
<rect x="290" y="113" width="1" height="1" fill="#fff"/>
<rect x="295" y="113" width="1" height="1" fill="#fff"/>
<rect x="295" y="114" width="1" height="1" fill="#fff"/>
<rect x="298" y="113" width="1" height="1" fill="#fff"/>
<rect x="299" y="113" width="1" height="1" fill="#fff"/>
<rect x="205" y="118" width="1" height="1" fill="#fff"/>
<rect x="205" y="119" width="1" height="1" fill="#fff"/>
<rect x="209" y="118" width="1" height="1" fill="#fff"/>
<rect x="210" y="118" width="1" height="1" fill="#fff"/>
<rect x="209" y="119" width="1" height="1" fill="#fff"/>
<rect x="213" y="118" width="1" height="1" fill="#fff"/>
<rect x="213" y="119" width="1" height="1" fill="#fff"/>
<rect x="214" y="119" width="1" height="1" fill="#fff"/>
<rect x="284" y="118" width="1" height="1" fill="#fff"/>
<rect x="284" y="119" width="1" height="1" fill="#fff"/>
<rect x="290" y="118" width="1" height="1" fill="#fff"/>
<rect x="290" y="119" width="1" height="1" fill="#fff"/>
<rect x="295" y="118" width="1" height="1" fill="#fff"/>
<rect x="295" y="119" width="1" height="1" fill="#fff"/>
<rect x="298" y="118" width="1" height="1" fill="#fff"/>
<rect x="298" y="119" width="1" height="1" fill="#fff"/>
<rect x="205" y="123" width="1" height="1" fill="#fff"/>
<rect x="205" y="124" width="1" height="1" fill="#fff"/>
<rect x="209" y="123" width="1" height="1" fill="#fff"/>
<rect x="210" y="123" width="1" height="1" fill="#fff"/>
<rect x="209" y="124" width="1" height="1" fill="#fff"/>
<rect x="214" y="123" width="1" height="1" fill="#fff"/>
<rect x="214" y="124" width="1" height="1" fill="#fff"/>
<rect x="284" y="123" width="1" height="1" fill="#fff"/>
<rect x="284" y="124" width="1" height="1" fill="#fff"/>
<rect x="285" y="124" width="1" height="1" fill="#fff"/>
<rect x="290" y="123" width="1" height="1" fill="#fff"/>
<rect x="290" y="124" width="1" height="1" fill="#fff"/>
<rect x="294" y="123" width="1" height="1" fill="#fff"/>
<rect x="295" y="123" width="1" height="1" fill="#fff"/>
<rect x="294" y="124" width="1" height="1" fill="#fff"/>
<rect x="298" y="123" width="1" height="1" fill="#fff"/>
<rect x="298" y="124" width="1" height="1" fill="#fff"/>
<rect x="204" y="127" width="2" height="2" fill="#fff"/>
<rect x="209" y="127" width="1" height="1" fill="#fff"/>
<rect x="210" y="127" width="1" height="1" fill="#fff"/>
<rect x="210" y="128" width="1" height="1" fill="#fff"/>
<rect x="213" y="127" width="2" height="2" fill="#fff"/>
<rect x="284" y="127" width="1" height="1" fill="#fff"/>
<rect x="285" y="127" width="1" height="1" fill="#fff"/>
<rect x="285" y="128" width="1" height="1" fill="#fff"/>
<rect x="289" y="127" width="1" height="1" fill="#fff"/>
<rect x="289" y="128" width="1" height="1" fill="#fff"/>
<rect x="295" y="127" width="1" height="1" fill="#fff"/>
<rect x="294" y="128" width="1" height="1" fill="#fff"/>
<rect x="295" y="128" width="1" height="1" fill="#fff"/>
<rect x="298" y="127" width="2" height="2" fill="#fff"/>
<rect x="204" y="133" width="1" height="1" fill="#fff"/>
<rect x="205" y="133" width="1" height="1" fill="#fff"/>
<rect x="209" y="132" width="1" height="1" fill="#fff"/>
<rect x="210" y="132" width="1" height="1" fill="#fff"/>
<rect x="209" y="133" width="1" height="1" fill="#fff"/>
<rect x="213" y="132" width="1" height="1" fill="#fff"/>
<rect x="214" y="132" width="1" height="1" fill="#fff"/>
<rect x="214" y="133" width="1" height="1" fill="#fff"/>
<rect x="284" y="132" width="2" height="2" fill="#fff"/>
<rect x="289" y="132" width="1" height="1" fill="#fff"/>
<rect x="290" y="132" width="1" height="1" fill="#fff"/>
<rect x="289" y="133" width="1" height="1" fill="#fff"/>
<rect x="294" y="133" width="1" height="1" fill="#fff"/>
<rect x="295" y="133" width="1" height="1" fill="#fff"/>
<rect x="298" y="132" width="1" height="1" fill="#fff"/>
<rect x="298" y="133" width="1" height="1" fill="#fff"/>
<rect x="299" y="133" width="1" height="1" fill="#fff"/>
<rect x="204" y="137" width="2" height="2" fill="#fff"/>
<rect x="209" y="137" width="2" height="2" fill="#fff"/>
<rect x="213" y="138" width="1" height="1" fill="#fff"/>
<rect x="214" y="138" width="1" height="1" fill="#fff"/>
<rect x="284" y="138" width="1" height="1" fill="#fff"/>
<rect x="285" y="138" width="1" height="1" fill="#fff"/>
<rect x="290" y="137" width="1" height="1" fill="#fff"/>
<rect x="289" y="138" width="1" height="1" fill="#fff"/>
<rect x="290" y="138" width="1" height="1" fill="#fff"/>
<rect x="294" y="137" width="2" height="2" fill="#fff"/>
<rect x="298" y="137" width="1" height="1" fill="#fff"/>
<rect x="298" y="138" width="1" height="1" fill="#fff"/>
<rect x="299" y="138" width="1" height="1" fill="#fff"/>
<rect x="204" y="142" width="2" height="2" fill="#fff"/>
<rect x="209" y="142" width="1" height="1" fill="#fff"/>
<rect x="209" y="143" width="1" height="1" fill="#fff"/>
<rect x="213" y="142" width="1" height="1" fill="#fff"/>
<rect x="214" y="142" width="1" height="1" fill="#fff"/>
<rect x="213" y="143" width="1" height="1" fill="#fff"/>
<rect x="284" y="142" width="2" height="2" fill="#fff"/>
<rect x="289" y="142" width="1" height="1" fill="#fff"/>
<rect x="290" y="142" width="1" height="1" fill="#fff"/>
<rect x="290" y="143" width="1" height="1" fill="#fff"/>
<rect x="294" y="142" width="1" height="1" fill="#fff"/>
<rect x="294" y="143" width="1" height="1" fill="#fff"/>
<rect x="298" y="142" width="2" height="2" fill="#fff"/>
<rect x="204" y="147" width="1" height="1" fill="#fff"/>
<rect x="205" y="147" width="1" height="1" fill="#fff"/>
<rect x="209" y="146" width="1" height="1" fill="#fff"/>
<rect x="210" y="146" width="1" height="1" fill="#fff"/>
<rect x="209" y="147" width="1" height="1" fill="#fff"/>
<rect x="213" y="146" width="2" height="2" fill="#fff"/>
<rect x="284" y="146" width="1" height="1" fill="#fff"/>
<rect x="285" y="146" width="1" height="1" fill="#fff"/>
<rect x="285" y="147" width="1" height="1" fill="#fff"/>
<rect x="290" y="146" width="1" height="1" fill="#fff"/>
<rect x="290" y="147" width="1" height="1" fill="#fff"/>
<rect x="294" y="146" width="1" height="1" fill="#fff"/>
<rect x="295" y="146" width="1" height="1" fill="#fff"/>
<rect x="295" y="147" width="1" height="1" fill="#fff"/>
<rect x="299" y="146" width="1" height="1" fill="#fff"/>
<rect x="298" y="147" width="1" height="1" fill="#fff"/>
<rect x="299" y="147" width="1" height="1" fill="#fff"/>
<rect x="204" y="151" width="1" height="1" fill="#fff"/>
<rect x="205" y="151" width="1" height="1" fill="#fff"/>
<rect x="205" y="152" width="1" height="1" fill="#fff"/>
<rect x="209" y="151" width="1" height="1" fill="#fff"/>
<rect x="210" y="151" width="1" height="1" fill="#fff"/>
<rect x="209" y="152" width="1" height="1" fill="#fff"/>
<rect x="214" y="151" width="1" height="1" fill="#fff"/>
<rect x="213" y="152" width="1" height="1" fill="#fff"/>
<rect x="214" y="152" width="1" height="1" fill="#fff"/>
<rect x="224" y="151" width="1" height="1" fill="#fff"/>
<rect x="223" y="152" width="1" height="1" fill="#fff"/>
<rect x="224" y="152" width="1" height="1" fill="#fff"/>
<rect x="228" y="151" width="2" height="2" fill="#fff"/>
<rect x="233" y="151" width="1" height="1" fill="#fff"/>
<rect x="232" y="152" width="1" height="1" fill="#fff"/>
<rect x="233" y="152" width="1" height="1" fill="#fff"/>
<rect x="237" y="151" width="2" height="2" fill="#fff"/>
<rect x="243" y="151" width="1" height="1" fill="#fff"/>
<rect x="242" y="152" width="1" height="1" fill="#fff"/>
<rect x="243" y="152" width="1" height="1" fill="#fff"/>
<rect x="247" y="151" width="1" height="1" fill="#fff"/>
<rect x="247" y="152" width="1" height="1" fill="#fff"/>
<rect x="251" y="151" width="1" height="1" fill="#fff"/>
<rect x="251" y="152" width="1" height="1" fill="#fff"/>
<rect x="256" y="151" width="1" height="1" fill="#fff"/>
<rect x="256" y="152" width="1" height="1" fill="#fff"/>
<rect x="261" y="151" width="2" height="2" fill="#fff"/>
<rect x="265" y="151" width="1" height="1" fill="#fff"/>
<rect x="266" y="151" width="1" height="1" fill="#fff"/>
<rect x="266" y="152" width="1" height="1" fill="#fff"/>
<rect x="271" y="151" width="1" height="1" fill="#fff"/>
<rect x="270" y="152" width="1" height="1" fill="#fff"/>
<rect x="271" y="152" width="1" height="1" fill="#fff"/>
<rect x="276" y="151" width="1" height="1" fill="#fff"/>
<rect x="276" y="152" width="1" height="1" fill="#fff"/>
<rect x="280" y="151" width="1" height="1" fill="#fff"/>
<rect x="281" y="151" width="1" height="1" fill="#fff"/>
<rect x="289" y="151" width="1" height="1" fill="#fff"/>
<rect x="289" y="152" width="1" height="1" fill="#fff"/>
<rect x="290" y="152" width="1" height="1" fill="#fff"/>
<rect x="295" y="151" width="1" height="1" fill="#fff"/>
<rect x="295" y="152" width="1" height="1" fill="#fff"/>
<rect x="298" y="151" width="2" height="2" fill="#fff"/>
<rect x="204" y="156" width="2" height="2" fill="#fff"/>
<rect x="209" y="156" width="1" height="1" fill="#fff"/>
<rect x="210" y="156" width="1" height="1" fill="#fff"/>
<rect x="209" y="157" width="1" height="1" fill="#fff"/>
<rect x="213" y="156" width="2" height="2" fill="#fff"/>
<rect x="218" y="156" width="2" height="2" fill="#fff"/>
<rect x="223" y="156" width="1" height="1" fill="#fff"/>
<rect x="223" y="157" width="1" height="1" fill="#fff"/>
<rect x="224" y="157" width="1" height="1" fill="#fff"/>
<rect x="228" y="156" width="1" height="1" fill="#fff"/>
<rect x="228" y="157" width="1" height="1" fill="#fff"/>
<rect x="229" y="157" width="1" height="1" fill="#fff"/>
<rect x="232" y="156" width="2" height="2" fill="#fff"/>
<rect x="237" y="156" width="2" height="2" fill="#fff"/>
<rect x="242" y="156" width="1" height="1" fill="#fff"/>
<rect x="242" y="157" width="1" height="1" fill="#fff"/>
<rect x="243" y="157" width="1" height="1" fill="#fff"/>
<rect x="246" y="156" width="2" height="2" fill="#fff"/>
<rect x="251" y="156" width="1" height="1" fill="#fff"/>
<rect x="252" y="156" width="1" height="1" fill="#fff"/>
<rect x="252" y="157" width="1" height="1" fill="#fff"/>
<rect x="256" y="157" width="1" height="1" fill="#fff"/>
<rect x="257" y="157" width="1" height="1" fill="#fff"/>
<rect x="261" y="156" width="1" height="1" fill="#fff"/>
<rect x="261" y="157" width="1" height="1" fill="#fff"/>
<rect x="262" y="157" width="1" height="1" fill="#fff"/>
<rect x="265" y="156" width="1" height="1" fill="#fff"/>
<rect x="266" y="156" width="1" height="1" fill="#fff"/>
<rect x="266" y="157" width="1" height="1" fill="#fff"/>
<rect x="270" y="156" width="2" height="2" fill="#fff"/>
<rect x="276" y="156" width="1" height="1" fill="#fff"/>
<rect x="276" y="157" width="1" height="1" fill="#fff"/>
<rect x="281" y="156" width="1" height="1" fill="#fff"/>
<rect x="281" y="157" width="1" height="1" fill="#fff"/>
<rect x="284" y="156" width="1" height="1" fill="#fff"/>
<rect x="285" y="156" width="1" height="1" fill="#fff"/>
<rect x="289" y="156" width="1" height="1" fill="#fff"/>
<rect x="289" y="157" width="1" height="1" fill="#fff"/>
<rect x="295" y="156" width="1" height="1" fill="#fff"/>
<rect x="294" y="157" width="1" height="1" fill="#fff"/>
<rect x="295" y="157" width="1" height="1" fill="#fff"/>
<rect x="298" y="156" width="2" height="2" fill="#fff"/>
<rect x="204" y="160" width="1" height="1" fill="#fff"/>
<rect x="204" y="161" width="1" height="1" fill="#fff"/>
<rect x="205" y="161" width="1" height="1" fill="#fff"/>
<rect x="209" y="160" width="2" height="2" fill="#fff"/>
<rect x="213" y="160" width="2" height="2" fill="#fff"/>
<rect x="218" y="160" width="1" height="1" fill="#fff"/>
<rect x="219" y="160" width="1" height="1" fill="#fff"/>
<rect x="219" y="161" width="1" height="1" fill="#fff"/>
<rect x="223" y="160" width="2" height="2" fill="#fff"/>
<rect x="228" y="160" width="1" height="1" fill="#fff"/>
<rect x="228" y="161" width="1" height="1" fill="#fff"/>
<rect x="229" y="161" width="1" height="1" fill="#fff"/>
<rect x="232" y="160" width="2" height="2" fill="#fff"/>
<rect x="237" y="161" width="1" height="1" fill="#fff"/>
<rect x="238" y="161" width="1" height="1" fill="#fff"/>
<rect x="242" y="160" width="2" height="2" fill="#fff"/>
<rect x="246" y="160" width="1" height="1" fill="#fff"/>
<rect x="246" y="161" width="1" height="1" fill="#fff"/>
<rect x="247" y="161" width="1" height="1" fill="#fff"/>
<rect x="251" y="160" width="2" height="2" fill="#fff"/>
<rect x="256" y="160" width="1" height="1" fill="#fff"/>
<rect x="257" y="160" width="1" height="1" fill="#fff"/>
<rect x="261" y="160" width="1" height="1" fill="#fff"/>
<rect x="262" y="160" width="1" height="1" fill="#fff"/>
<rect x="261" y="161" width="1" height="1" fill="#fff"/>
<rect x="265" y="160" width="2" height="2" fill="#fff"/>
<rect x="270" y="160" width="1" height="1" fill="#fff"/>
<rect x="270" y="161" width="1" height="1" fill="#fff"/>
<rect x="271" y="161" width="1" height="1" fill="#fff"/>
<rect x="275" y="160" width="2" height="2" fill="#fff"/>
<rect x="280" y="160" width="1" height="1" fill="#fff"/>
<rect x="280" y="161" width="1" height="1" fill="#fff"/>
<rect x="284" y="160" width="2" height="2" fill="#fff"/>
<rect x="290" y="160" width="1" height="1" fill="#fff"/>
<rect x="289" y="161" width="1" height="1" fill="#fff"/>
<rect x="290" y="161" width="1" height="1" fill="#fff"/>
<rect x="295" y="160" width="1" height="1" fill="#fff"/>
<rect x="295" y="161" width="1" height="1" fill="#fff"/>
<rect x="298" y="160" width="1" height="1" fill="#fff"/>
<rect x="299" y="160" width="1" height="1" fill="#fff"/>
<rect x="299" y="161" width="1" height="1" fill="#fff"/>
<rect x="204" y="165" width="1" height="1" fill="#fff"/>
<rect x="204" y="166" width="1" height="1" fill="#fff"/>
<rect x="205" y="166" width="1" height="1" fill="#fff"/>
<rect x="209" y="165" width="1" height="1" fill="#fff"/>
<rect x="210" y="165" width="1" height="1" fill="#fff"/>
<rect x="213" y="165" width="2" height="2" fill="#fff"/>
<rect x="218" y="165" width="2" height="2" fill="#fff"/>
<rect x="224" y="165" width="1" height="1" fill="#fff"/>
<rect x="224" y="166" width="1" height="1" fill="#fff"/>
<rect x="228" y="165" width="1" height="1" fill="#fff"/>
<rect x="229" y="165" width="1" height="1" fill="#fff"/>
<rect x="228" y="166" width="1" height="1" fill="#fff"/>
<rect x="232" y="165" width="2" height="2" fill="#fff"/>
<rect x="237" y="165" width="2" height="2" fill="#fff"/>
<rect x="242" y="165" width="1" height="1" fill="#fff"/>
<rect x="242" y="166" width="1" height="1" fill="#fff"/>
<rect x="243" y="166" width="1" height="1" fill="#fff"/>
<rect x="246" y="165" width="2" height="2" fill="#fff"/>
<rect x="251" y="165" width="2" height="2" fill="#fff"/>
<rect x="256" y="165" width="1" height="1" fill="#fff"/>
<rect x="257" y="165" width="1" height="1" fill="#fff"/>
<rect x="256" y="166" width="1" height="1" fill="#fff"/>
<rect x="261" y="165" width="1" height="1" fill="#fff"/>
<rect x="261" y="166" width="1" height="1" fill="#fff"/>
<rect x="262" y="166" width="1" height="1" fill="#fff"/>
<rect x="265" y="166" width="1" height="1" fill="#fff"/>
<rect x="266" y="166" width="1" height="1" fill="#fff"/>
<rect x="270" y="165" width="1" height="1" fill="#fff"/>
<rect x="270" y="166" width="1" height="1" fill="#fff"/>
<rect x="271" y="166" width="1" height="1" fill="#fff"/>
<rect x="276" y="165" width="1" height="1" fill="#fff"/>
<rect x="276" y="166" width="1" height="1" fill="#fff"/>
<rect x="280" y="165" width="1" height="1" fill="#fff"/>
<rect x="281" y="165" width="1" height="1" fill="#fff"/>
<rect x="280" y="166" width="1" height="1" fill="#fff"/>
<rect x="284" y="165" width="1" height="1" fill="#fff"/>
<rect x="284" y="166" width="1" height="1" fill="#fff"/>
<rect x="285" y="166" width="1" height="1" fill="#fff"/>
<rect x="289" y="165" width="1" height="1" fill="#fff"/>
<rect x="289" y="166" width="1" height="1" fill="#fff"/>
<rect x="295" y="165" width="1" height="1" fill="#fff"/>
<rect x="295" y="166" width="1" height="1" fill="#fff"/>
<rect x="298" y="166" width="1" height="1" fill="#fff"/>
<rect x="299" y="166" width="1" height="1" fill="#fff"/>
<rect x="240" y="112" width="22" height="11" fill="#fff"/>
<text x="240.06" y="121.80" font-size="11.20" fill="#000" textLength="22.25" lengthAdjust="spacingAndGlyphs" filter="url(#th)" >CPU</text>
<polygon points="95,186 141,186 145,189 145,235 141,239 96,239 92,235 92,190" fill="#000"/>
<rect x="101" y="186" width="1" height="2" fill="#fff"/>
<rect x="135" y="186" width="1" height="2" fill="#fff"/>
<rect x="105" y="237" width="1" height="2" fill="#fff"/>
<rect x="139" y="237" width="1" height="2" fill="#fff"/>
<rect x="92" y="204" width="2" height="1" fill="#fff"/>
<rect x="92" y="213" width="2" height="1" fill="#fff"/>
<rect x="92" y="222" width="2" height="1" fill="#fff"/>
<rect x="92" y="229" width="2" height="1" fill="#fff"/>
<rect x="143" y="195" width="2" height="1" fill="#fff"/>
<rect x="143" y="202" width="2" height="1" fill="#fff"/>
<rect x="143" y="211" width="2" height="1" fill="#fff"/>
<rect x="143" y="227" width="2" height="1" fill="#fff"/>
<polygon points="157,186 203,186 207,189 207,235 203,239 158,239 154,235 154,190" fill="#000"/>
<rect x="163" y="186" width="1" height="2" fill="#fff"/>
<rect x="197" y="186" width="1" height="2" fill="#fff"/>
<rect x="167" y="237" width="1" height="2" fill="#fff"/>
<rect x="201" y="237" width="1" height="2" fill="#fff"/>
<rect x="154" y="204" width="2" height="1" fill="#fff"/>
<rect x="154" y="213" width="2" height="1" fill="#fff"/>
<rect x="154" y="222" width="2" height="1" fill="#fff"/>
<rect x="154" y="229" width="2" height="1" fill="#fff"/>
<rect x="205" y="195" width="2" height="1" fill="#fff"/>
<rect x="205" y="202" width="2" height="1" fill="#fff"/>
<rect x="205" y="211" width="2" height="1" fill="#fff"/>
<rect x="205" y="227" width="2" height="1" fill="#fff"/>
<polygon points="220,186 266,186 270,189 270,235 266,239 221,239 217,235 217,190" fill="#000"/>
<rect x="226" y="186" width="1" height="2" fill="#fff"/>
<rect x="260" y="186" width="1" height="2" fill="#fff"/>
<rect x="230" y="237" width="1" height="2" fill="#fff"/>
<rect x="264" y="237" width="1" height="2" fill="#fff"/>
<rect x="217" y="204" width="2" height="1" fill="#fff"/>
<rect x="217" y="213" width="2" height="1" fill="#fff"/>
<rect x="217" y="222" width="2" height="1" fill="#fff"/>
<rect x="217" y="229" width="2" height="1" fill="#fff"/>
<rect x="268" y="195" width="2" height="1" fill="#fff"/>
<rect x="268" y="202" width="2" height="1" fill="#fff"/>
<rect x="268" y="211" width="2" height="1" fill="#fff"/>
<rect x="268" y="227" width="2" height="1" fill="#fff"/>
<polygon points="327,76 373,76 377,79 377,124 373,128 328,128 324,124 324,80" fill="#000"/>
<rect x="333" y="76" width="1" height="2" fill="#fff"/>
<rect x="367" y="76" width="1" height="2" fill="#fff"/>
<rect x="337" y="126" width="1" height="2" fill="#fff"/>
<rect x="371" y="126" width="1" height="2" fill="#fff"/>
<rect x="324" y="94" width="2" height="1" fill="#fff"/>
<rect x="324" y="102" width="2" height="1" fill="#fff"/>
<rect x="324" y="111" width="2" height="1" fill="#fff"/>
<rect x="324" y="118" width="2" height="1" fill="#fff"/>
<rect x="375" y="85" width="2" height="1" fill="#fff"/>
<rect x="375" y="92" width="2" height="1" fill="#fff"/>
<rect x="375" y="101" width="2" height="1" fill="#fff"/>
<rect x="375" y="116" width="2" height="1" fill="#fff"/>
<polygon points="545,78 590,78 594,81 594,126 590,130 546,130 542,126 542,82" fill="#000"/>
<rect x="551" y="78" width="1" height="2" fill="#fff"/>
<rect x="584" y="78" width="1" height="2" fill="#fff"/>
<rect x="555" y="128" width="1" height="2" fill="#fff"/>
<rect x="588" y="128" width="1" height="2" fill="#fff"/>
<rect x="542" y="96" width="2" height="1" fill="#fff"/>
<rect x="542" y="104" width="2" height="1" fill="#fff"/>
<rect x="542" y="113" width="2" height="1" fill="#fff"/>
<rect x="542" y="120" width="2" height="1" fill="#fff"/>
<rect x="592" y="87" width="2" height="1" fill="#fff"/>
<rect x="592" y="94" width="2" height="1" fill="#fff"/>
<rect x="592" y="103" width="2" height="1" fill="#fff"/>
<rect x="592" y="118" width="2" height="1" fill="#fff"/>
<polygon points="442,195 487,195 491,198 491,243 487,247 443,247 439,243 439,199" fill="#000"/>
<rect x="448" y="195" width="1" height="2" fill="#fff"/>
<rect x="481" y="195" width="1" height="2" fill="#fff"/>
<rect x="452" y="245" width="1" height="2" fill="#fff"/>
<rect x="485" y="245" width="1" height="2" fill="#fff"/>
<rect x="439" y="213" width="2" height="1" fill="#fff"/>
<rect x="439" y="221" width="2" height="1" fill="#fff"/>
<rect x="439" y="230" width="2" height="1" fill="#fff"/>
<rect x="439" y="237" width="2" height="1" fill="#fff"/>
<rect x="489" y="204" width="2" height="1" fill="#fff"/>
<rect x="489" y="211" width="2" height="1" fill="#fff"/>
<rect x="489" y="220" width="2" height="1" fill="#fff"/>
<rect x="489" y="235" width="2" height="1" fill="#fff"/>
<text x="452.13" y="265.80" font-size="10.00" fill="#000" textLength="28.84" lengthAdjust="spacingAndGlyphs" filter="url(#th)" >M3661</text>
<polygon points="529,357 574,357 578,360 578,405 574,409 530,409 526,405 526,361" fill="#000"/>
<rect x="535" y="357" width="1" height="2" fill="#fff"/>
<rect x="568" y="357" width="1" height="2" fill="#fff"/>
<rect x="539" y="407" width="1" height="2" fill="#fff"/>
<rect x="572" y="407" width="1" height="2" fill="#fff"/>
<rect x="526" y="375" width="2" height="1" fill="#fff"/>
<rect x="526" y="383" width="2" height="1" fill="#fff"/>
<rect x="526" y="392" width="2" height="1" fill="#fff"/>
<rect x="526" y="399" width="2" height="1" fill="#fff"/>
<rect x="576" y="366" width="2" height="1" fill="#fff"/>
<rect x="576" y="373" width="2" height="1" fill="#fff"/>
<rect x="576" y="382" width="2" height="1" fill="#fff"/>
<rect x="576" y="397" width="2" height="1" fill="#fff"/>
<rect x="57" y="256" width="223" height="16" fill="#000"/>
<rect x="66" y="262" width="205" height="4" fill="#fff"/>
<rect x="155" y="257" width="27" height="14" fill="#000"/>
<rect x="156.8" y="258" width="23.2" height="11.8" fill="#fff"/>
<text x="157.19" y="267.70" font-size="11.20" fill="#000" textLength="19.66" lengthAdjust="spacingAndGlyphs" filter="url(#th)" >SL2</text>
<rect x="257" y="298" width="344" height="16" fill="#000"/>
<rect x="270" y="304" width="317" height="4" fill="#fff"/>
<rect x="415" y="299" width="27" height="14" fill="#000"/>
<rect x="417" y="300" width="23" height="11" fill="#fff"/>
<text x="419.03" y="309.00" font-size="11.20" fill="#000" textLength="18.17" lengthAdjust="spacingAndGlyphs" filter="url(#th)" >SL1</text>
<rect x="45" y="321" width="222" height="13" fill="#000"/>
<rect x="46" y="322" width="5" height="2" fill="#fff"/>
<rect x="261" y="322" width="5" height="2" fill="#fff"/>
<rect x="46" y="325" width="5" height="3" fill="#fff"/>
<rect x="261" y="325" width="5" height="3" fill="#fff"/>
<rect x="46" y="329" width="5" height="4" fill="#fff"/>
<rect x="261" y="329" width="5" height="4" fill="#fff"/>
<rect x="52" y="322" width="208" height="1" fill="#fff"/>
<rect x="61" y="332" width="190" height="1" fill="#fff"/>
<rect x="55" y="324" width="7" height="4" fill="#fff"/>
<rect x="56" y="327" width="5" height="1" fill="#000"/>
<rect x="55" y="329" width="6" height="3" fill="#fff"/>
<rect x="57" y="329" width="4" height="2" fill="#000"/>
<rect x="61" y="328" width="3" height="5" fill="#fff"/>
<rect x="250" y="324" width="7" height="4" fill="#fff"/>
<rect x="251" y="327" width="5" height="1" fill="#000"/>
<rect x="251" y="329" width="6" height="3" fill="#fff"/>
<rect x="251" y="329" width="4" height="2" fill="#000"/>
<rect x="248" y="328" width="3" height="5" fill="#fff"/>
<rect x="65" y="324" width="1" height="4" fill="#fff"/>
<rect x="67" y="324" width="1" height="4" fill="#fff"/>
<rect x="69" y="324" width="1" height="4" fill="#fff"/>
<rect x="76" y="324" width="1" height="4" fill="#fff"/>
<rect x="78" y="324" width="1" height="4" fill="#fff"/>
<rect x="80" y="324" width="1" height="4" fill="#fff"/>
<rect x="82" y="324" width="1" height="4" fill="#fff"/>
<rect x="89" y="324" width="1" height="4" fill="#fff"/>
<rect x="91" y="324" width="1" height="4" fill="#fff"/>
<rect x="93" y="324" width="1" height="4" fill="#fff"/>
<rect x="95" y="324" width="1" height="4" fill="#fff"/>
<rect x="105" y="324" width="1" height="4" fill="#fff"/>
<rect x="107" y="324" width="1" height="4" fill="#fff"/>
<rect x="109" y="324" width="1" height="4" fill="#fff"/>
<rect x="111" y="324" width="1" height="4" fill="#fff"/>
<rect x="121" y="324" width="1" height="4" fill="#fff"/>
<rect x="123" y="324" width="1" height="4" fill="#fff"/>
<rect x="125" y="324" width="1" height="4" fill="#fff"/>
<rect x="132" y="324" width="1" height="4" fill="#fff"/>
<rect x="134" y="324" width="1" height="4" fill="#fff"/>
<rect x="136" y="324" width="1" height="4" fill="#fff"/>
<rect x="138" y="324" width="1" height="4" fill="#fff"/>
<rect x="145" y="324" width="1" height="4" fill="#fff"/>
<rect x="147" y="324" width="1" height="4" fill="#fff"/>
<rect x="149" y="324" width="1" height="4" fill="#fff"/>
<rect x="151" y="324" width="1" height="4" fill="#fff"/>
<rect x="161" y="324" width="1" height="4" fill="#fff"/>
<rect x="163" y="324" width="1" height="4" fill="#fff"/>
<rect x="165" y="324" width="1" height="4" fill="#fff"/>
<rect x="167" y="324" width="1" height="4" fill="#fff"/>
<rect x="169" y="324" width="1" height="4" fill="#fff"/>
<rect x="176" y="324" width="1" height="4" fill="#fff"/>
<rect x="178" y="324" width="1" height="4" fill="#fff"/>
<rect x="180" y="324" width="1" height="4" fill="#fff"/>
<rect x="182" y="324" width="1" height="4" fill="#fff"/>
<rect x="184" y="324" width="1" height="4" fill="#fff"/>
<rect x="194" y="324" width="1" height="4" fill="#fff"/>
<rect x="196" y="324" width="1" height="4" fill="#fff"/>
<rect x="198" y="324" width="1" height="4" fill="#fff"/>
<rect x="200" y="324" width="1" height="4" fill="#fff"/>
<rect x="208" y="324" width="1" height="4" fill="#fff"/>
<rect x="210" y="324" width="1" height="4" fill="#fff"/>
<rect x="212" y="324" width="1" height="4" fill="#fff"/>
<rect x="214" y="324" width="1" height="4" fill="#fff"/>
<rect x="216" y="324" width="1" height="4" fill="#fff"/>
<rect x="223" y="324" width="1" height="4" fill="#fff"/>
<rect x="225" y="324" width="1" height="4" fill="#fff"/>
<rect x="227" y="324" width="1" height="4" fill="#fff"/>
<rect x="229" y="324" width="1" height="4" fill="#fff"/>
<rect x="236" y="324" width="1" height="4" fill="#fff"/>
<rect x="238" y="324" width="1" height="4" fill="#fff"/>
<rect x="67" y="335" width="222" height="13" fill="#000"/>
<rect x="68" y="336" width="5" height="2" fill="#fff"/>
<rect x="283" y="336" width="5" height="2" fill="#fff"/>
<rect x="68" y="339" width="5" height="3" fill="#fff"/>
<rect x="283" y="339" width="5" height="3" fill="#fff"/>
<rect x="68" y="343" width="5" height="4" fill="#fff"/>
<rect x="283" y="343" width="5" height="4" fill="#fff"/>
<rect x="74" y="336" width="208" height="1" fill="#fff"/>
<rect x="83" y="346" width="190" height="1" fill="#fff"/>
<rect x="77" y="338" width="7" height="4" fill="#fff"/>
<rect x="78" y="341" width="5" height="1" fill="#000"/>
<rect x="77" y="343" width="6" height="3" fill="#fff"/>
<rect x="79" y="343" width="4" height="2" fill="#000"/>
<rect x="83" y="342" width="3" height="5" fill="#fff"/>
<rect x="272" y="338" width="7" height="4" fill="#fff"/>
<rect x="273" y="341" width="5" height="1" fill="#000"/>
<rect x="273" y="343" width="6" height="3" fill="#fff"/>
<rect x="273" y="343" width="4" height="2" fill="#000"/>
<rect x="270" y="342" width="3" height="5" fill="#fff"/>
<rect x="87" y="338" width="1" height="4" fill="#fff"/>
<rect x="89" y="338" width="1" height="4" fill="#fff"/>
<rect x="96" y="338" width="1" height="4" fill="#fff"/>
<rect x="98" y="338" width="1" height="4" fill="#fff"/>
<rect x="107" y="338" width="1" height="4" fill="#fff"/>
<rect x="109" y="338" width="1" height="4" fill="#fff"/>
<rect x="111" y="338" width="1" height="4" fill="#fff"/>
<rect x="120" y="338" width="1" height="4" fill="#fff"/>
<rect x="122" y="338" width="1" height="4" fill="#fff"/>
<rect x="124" y="338" width="1" height="4" fill="#fff"/>
<rect x="126" y="338" width="1" height="4" fill="#fff"/>
<rect x="134" y="338" width="1" height="4" fill="#fff"/>
<rect x="136" y="338" width="1" height="4" fill="#fff"/>
<rect x="138" y="338" width="1" height="4" fill="#fff"/>
<rect x="140" y="338" width="1" height="4" fill="#fff"/>
<rect x="142" y="338" width="1" height="4" fill="#fff"/>
<rect x="149" y="338" width="1" height="4" fill="#fff"/>
<rect x="151" y="338" width="1" height="4" fill="#fff"/>
<rect x="153" y="338" width="1" height="4" fill="#fff"/>
<rect x="155" y="338" width="1" height="4" fill="#fff"/>
<rect x="157" y="338" width="1" height="4" fill="#fff"/>
<rect x="165" y="338" width="1" height="4" fill="#fff"/>
<rect x="167" y="338" width="1" height="4" fill="#fff"/>
<rect x="169" y="338" width="1" height="4" fill="#fff"/>
<rect x="171" y="338" width="1" height="4" fill="#fff"/>
<rect x="181" y="338" width="1" height="4" fill="#fff"/>
<rect x="183" y="338" width="1" height="4" fill="#fff"/>
<rect x="185" y="338" width="1" height="4" fill="#fff"/>
<rect x="187" y="338" width="1" height="4" fill="#fff"/>
<rect x="189" y="338" width="1" height="4" fill="#fff"/>
<rect x="198" y="338" width="1" height="4" fill="#fff"/>
<rect x="200" y="338" width="1" height="4" fill="#fff"/>
<rect x="202" y="338" width="1" height="4" fill="#fff"/>
<rect x="204" y="338" width="1" height="4" fill="#fff"/>
<rect x="206" y="338" width="1" height="4" fill="#fff"/>
<rect x="216" y="338" width="1" height="4" fill="#fff"/>
<rect x="218" y="338" width="1" height="4" fill="#fff"/>
<rect x="220" y="338" width="1" height="4" fill="#fff"/>
<rect x="222" y="338" width="1" height="4" fill="#fff"/>
<rect x="224" y="338" width="1" height="4" fill="#fff"/>
<rect x="233" y="338" width="1" height="4" fill="#fff"/>
<rect x="235" y="338" width="1" height="4" fill="#fff"/>
<rect x="242" y="338" width="1" height="4" fill="#fff"/>
<rect x="244" y="338" width="1" height="4" fill="#fff"/>
<rect x="246" y="338" width="1" height="4" fill="#fff"/>
<rect x="248" y="338" width="1" height="4" fill="#fff"/>
<rect x="258" y="338" width="1" height="4" fill="#fff"/>
<rect x="260" y="338" width="1" height="4" fill="#fff"/>
<rect x="262" y="338" width="1" height="4" fill="#fff"/>
<rect x="264" y="338" width="1" height="4" fill="#fff"/>
<rect x="67" y="350" width="222" height="13" fill="#000"/>
<rect x="68" y="351" width="5" height="2" fill="#fff"/>
<rect x="283" y="351" width="5" height="2" fill="#fff"/>
<rect x="68" y="354" width="5" height="3" fill="#fff"/>
<rect x="283" y="354" width="5" height="3" fill="#fff"/>
<rect x="68" y="358" width="5" height="4" fill="#fff"/>
<rect x="283" y="358" width="5" height="4" fill="#fff"/>
<rect x="74" y="351" width="208" height="1" fill="#fff"/>
<rect x="83" y="361" width="190" height="1" fill="#fff"/>
<rect x="77" y="353" width="7" height="4" fill="#fff"/>
<rect x="78" y="356" width="5" height="1" fill="#000"/>
<rect x="77" y="358" width="6" height="3" fill="#fff"/>
<rect x="79" y="358" width="4" height="2" fill="#000"/>
<rect x="83" y="357" width="3" height="5" fill="#fff"/>
<rect x="272" y="353" width="7" height="4" fill="#fff"/>
<rect x="273" y="356" width="5" height="1" fill="#000"/>
<rect x="273" y="358" width="6" height="3" fill="#fff"/>
<rect x="273" y="358" width="4" height="2" fill="#000"/>
<rect x="270" y="357" width="3" height="5" fill="#fff"/>
<rect x="87" y="353" width="1" height="4" fill="#fff"/>
<rect x="89" y="353" width="1" height="4" fill="#fff"/>
<rect x="89" y="354" width="1" height="1" fill="#000"/>
<rect x="91" y="353" width="1" height="4" fill="#fff"/>
<rect x="101" y="353" width="1" height="4" fill="#fff"/>
<rect x="103" y="353" width="1" height="4" fill="#fff"/>
<rect x="105" y="353" width="1" height="4" fill="#fff"/>
<rect x="107" y="353" width="1" height="4" fill="#fff"/>
<rect x="109" y="353" width="1" height="4" fill="#fff"/>
<rect x="117" y="353" width="1" height="4" fill="#fff"/>
<rect x="119" y="353" width="1" height="4" fill="#fff"/>
<rect x="121" y="353" width="1" height="4" fill="#fff"/>
<rect x="123" y="353" width="1" height="4" fill="#fff"/>
<rect x="125" y="353" width="1" height="4" fill="#fff"/>
<rect x="125" y="354" width="1" height="1" fill="#000"/>
<rect x="133" y="353" width="1" height="4" fill="#fff"/>
<rect x="133" y="354" width="1" height="1" fill="#000"/>
<rect x="135" y="353" width="1" height="4" fill="#fff"/>
<rect x="135" y="354" width="1" height="1" fill="#000"/>
<rect x="137" y="353" width="1" height="4" fill="#fff"/>
<rect x="139" y="353" width="1" height="4" fill="#fff"/>
<rect x="139" y="354" width="1" height="1" fill="#000"/>
<rect x="141" y="353" width="1" height="4" fill="#fff"/>
<rect x="148" y="353" width="1" height="4" fill="#fff"/>
<rect x="150" y="353" width="1" height="4" fill="#fff"/>
<rect x="152" y="353" width="1" height="4" fill="#fff"/>
<rect x="152" y="354" width="1" height="1" fill="#000"/>
<rect x="154" y="353" width="1" height="4" fill="#fff"/>
<rect x="164" y="353" width="1" height="4" fill="#fff"/>
<rect x="166" y="353" width="1" height="4" fill="#fff"/>
<rect x="168" y="353" width="1" height="4" fill="#fff"/>
<rect x="170" y="353" width="1" height="4" fill="#fff"/>
<rect x="172" y="353" width="1" height="4" fill="#fff"/>
<rect x="180" y="353" width="1" height="4" fill="#fff"/>
<rect x="180" y="354" width="1" height="1" fill="#000"/>
<rect x="182" y="353" width="1" height="4" fill="#fff"/>
<rect x="182" y="354" width="1" height="1" fill="#000"/>
<rect x="184" y="353" width="1" height="4" fill="#fff"/>
<rect x="184" y="354" width="1" height="1" fill="#000"/>
<rect x="186" y="353" width="1" height="4" fill="#fff"/>
<rect x="196" y="353" width="1" height="4" fill="#fff"/>
<rect x="198" y="353" width="1" height="4" fill="#fff"/>
<rect x="200" y="353" width="1" height="4" fill="#fff"/>
<rect x="202" y="353" width="1" height="4" fill="#fff"/>
<rect x="204" y="353" width="1" height="4" fill="#fff"/>
<rect x="214" y="353" width="1" height="4" fill="#fff"/>
<rect x="214" y="354" width="1" height="1" fill="#000"/>
<rect x="216" y="353" width="1" height="4" fill="#fff"/>
<rect x="216" y="354" width="1" height="1" fill="#000"/>
<rect x="218" y="353" width="1" height="4" fill="#fff"/>
<rect x="220" y="353" width="1" height="4" fill="#fff"/>
<rect x="220" y="354" width="1" height="1" fill="#000"/>
<rect x="222" y="353" width="1" height="4" fill="#fff"/>
<rect x="222" y="354" width="1" height="1" fill="#000"/>
<rect x="230" y="353" width="1" height="4" fill="#fff"/>
<rect x="232" y="353" width="1" height="4" fill="#fff"/>
<rect x="234" y="353" width="1" height="4" fill="#fff"/>
<rect x="236" y="353" width="1" height="4" fill="#fff"/>
<rect x="238" y="353" width="1" height="4" fill="#fff"/>
<rect x="246" y="353" width="1" height="4" fill="#fff"/>
<rect x="248" y="353" width="1" height="4" fill="#fff"/>
<rect x="250" y="353" width="1" height="4" fill="#fff"/>
<rect x="250" y="354" width="1" height="1" fill="#000"/>
<rect x="252" y="353" width="1" height="4" fill="#fff"/>
<rect x="252" y="354" width="1" height="1" fill="#000"/>
<rect x="254" y="353" width="1" height="4" fill="#fff"/>
<rect x="264" y="353" width="1" height="4" fill="#fff"/>
<rect x="264" y="354" width="1" height="1" fill="#000"/>
<rect x="67" y="363" width="222" height="13" fill="#000"/>
<rect x="68" y="364" width="5" height="2" fill="#fff"/>
<rect x="283" y="364" width="5" height="2" fill="#fff"/>
<rect x="68" y="367" width="5" height="3" fill="#fff"/>
<rect x="283" y="367" width="5" height="3" fill="#fff"/>
<rect x="68" y="371" width="5" height="4" fill="#fff"/>
<rect x="283" y="371" width="5" height="4" fill="#fff"/>
<rect x="74" y="364" width="208" height="1" fill="#fff"/>
<rect x="83" y="374" width="190" height="1" fill="#fff"/>
<rect x="77" y="366" width="7" height="4" fill="#fff"/>
<rect x="78" y="369" width="5" height="1" fill="#000"/>
<rect x="77" y="371" width="6" height="3" fill="#fff"/>
<rect x="79" y="371" width="4" height="2" fill="#000"/>
<rect x="83" y="370" width="3" height="5" fill="#fff"/>
<rect x="272" y="366" width="7" height="4" fill="#fff"/>
<rect x="273" y="369" width="5" height="1" fill="#000"/>
<rect x="273" y="371" width="6" height="3" fill="#fff"/>
<rect x="273" y="371" width="4" height="2" fill="#000"/>
<rect x="270" y="370" width="3" height="5" fill="#fff"/>
<rect x="87" y="366" width="1" height="4" fill="#fff"/>
<rect x="89" y="366" width="1" height="4" fill="#fff"/>
<rect x="91" y="366" width="1" height="4" fill="#fff"/>
<rect x="100" y="366" width="1" height="4" fill="#fff"/>
<rect x="102" y="366" width="1" height="4" fill="#fff"/>
<rect x="112" y="366" width="1" height="4" fill="#fff"/>
<rect x="114" y="366" width="1" height="4" fill="#fff"/>
<rect x="116" y="366" width="1" height="4" fill="#fff"/>
<rect x="118" y="366" width="1" height="4" fill="#fff"/>
<rect x="126" y="366" width="1" height="4" fill="#fff"/>
<rect x="128" y="366" width="1" height="4" fill="#fff"/>
<rect x="135" y="366" width="1" height="4" fill="#fff"/>
<rect x="137" y="366" width="1" height="4" fill="#fff"/>
<rect x="147" y="366" width="1" height="4" fill="#fff"/>
<rect x="149" y="366" width="1" height="4" fill="#fff"/>
<rect x="151" y="366" width="1" height="4" fill="#fff"/>
<rect x="153" y="366" width="1" height="4" fill="#fff"/>
<rect x="155" y="366" width="1" height="4" fill="#fff"/>
<rect x="164" y="366" width="1" height="4" fill="#fff"/>
<rect x="166" y="366" width="1" height="4" fill="#fff"/>
<rect x="174" y="366" width="1" height="4" fill="#fff"/>
<rect x="176" y="366" width="1" height="4" fill="#fff"/>
<rect x="178" y="366" width="1" height="4" fill="#fff"/>
<rect x="180" y="366" width="1" height="4" fill="#fff"/>
<rect x="182" y="366" width="1" height="4" fill="#fff"/>
<rect x="191" y="366" width="1" height="4" fill="#fff"/>
<rect x="193" y="366" width="1" height="4" fill="#fff"/>
<rect x="195" y="366" width="1" height="4" fill="#fff"/>
<rect x="197" y="366" width="1" height="4" fill="#fff"/>
<rect x="205" y="366" width="1" height="4" fill="#fff"/>
<rect x="207" y="366" width="1" height="4" fill="#fff"/>
<rect x="216" y="366" width="1" height="4" fill="#fff"/>
<rect x="218" y="366" width="1" height="4" fill="#fff"/>
<rect x="220" y="366" width="1" height="4" fill="#fff"/>
<rect x="227" y="366" width="1" height="4" fill="#fff"/>
<rect x="229" y="366" width="1" height="4" fill="#fff"/>
<rect x="231" y="366" width="1" height="4" fill="#fff"/>
<rect x="233" y="366" width="1" height="4" fill="#fff"/>
<rect x="235" y="366" width="1" height="4" fill="#fff"/>
<rect x="244" y="366" width="1" height="4" fill="#fff"/>
<rect x="246" y="366" width="1" height="4" fill="#fff"/>
<rect x="248" y="366" width="1" height="4" fill="#fff"/>
<rect x="250" y="366" width="1" height="4" fill="#fff"/>
<rect x="258" y="366" width="1" height="4" fill="#fff"/>
<rect x="260" y="366" width="1" height="4" fill="#fff"/>
<rect x="262" y="366" width="1" height="4" fill="#fff"/>
<rect x="67" y="377" width="222" height="13" fill="#000"/>
<rect x="68" y="378" width="5" height="2" fill="#fff"/>
<rect x="283" y="378" width="5" height="2" fill="#fff"/>
<rect x="68" y="381" width="5" height="3" fill="#fff"/>
<rect x="283" y="381" width="5" height="3" fill="#fff"/>
<rect x="68" y="385" width="5" height="4" fill="#fff"/>
<rect x="283" y="385" width="5" height="4" fill="#fff"/>
<rect x="74" y="378" width="208" height="1" fill="#fff"/>
<rect x="83" y="388" width="190" height="1" fill="#fff"/>
<rect x="77" y="380" width="7" height="4" fill="#fff"/>
<rect x="78" y="383" width="5" height="1" fill="#000"/>
<rect x="77" y="385" width="6" height="3" fill="#fff"/>
<rect x="79" y="385" width="4" height="2" fill="#000"/>
<rect x="83" y="384" width="3" height="5" fill="#fff"/>
<rect x="272" y="380" width="7" height="4" fill="#fff"/>
<rect x="273" y="383" width="5" height="1" fill="#000"/>
<rect x="273" y="385" width="6" height="3" fill="#fff"/>
<rect x="273" y="385" width="4" height="2" fill="#000"/>
<rect x="270" y="384" width="3" height="5" fill="#fff"/>
<rect x="87" y="380" width="1" height="4" fill="#fff"/>
<rect x="87" y="381" width="1" height="1" fill="#000"/>
<rect x="89" y="380" width="1" height="4" fill="#fff"/>
<rect x="89" y="381" width="1" height="1" fill="#000"/>
<rect x="91" y="380" width="1" height="4" fill="#fff"/>
<rect x="93" y="380" width="1" height="4" fill="#fff"/>
<rect x="95" y="380" width="1" height="4" fill="#fff"/>
<rect x="102" y="380" width="1" height="4" fill="#fff"/>
<rect x="104" y="380" width="1" height="4" fill="#fff"/>
<rect x="104" y="381" width="1" height="1" fill="#000"/>
<rect x="106" y="380" width="1" height="4" fill="#fff"/>
<rect x="106" y="381" width="1" height="1" fill="#000"/>
<rect x="108" y="380" width="1" height="4" fill="#fff"/>
<rect x="108" y="381" width="1" height="1" fill="#000"/>
<rect x="117" y="380" width="1" height="4" fill="#fff"/>
<rect x="119" y="380" width="1" height="4" fill="#fff"/>
<rect x="119" y="381" width="1" height="1" fill="#000"/>
<rect x="121" y="380" width="1" height="4" fill="#fff"/>
<rect x="121" y="381" width="1" height="1" fill="#000"/>
<rect x="123" y="380" width="1" height="4" fill="#fff"/>
<rect x="123" y="381" width="1" height="1" fill="#000"/>
<rect x="131" y="380" width="1" height="4" fill="#fff"/>
<rect x="131" y="381" width="1" height="1" fill="#000"/>
<rect x="133" y="380" width="1" height="4" fill="#fff"/>
<rect x="135" y="380" width="1" height="4" fill="#fff"/>
<rect x="137" y="380" width="1" height="4" fill="#fff"/>
<rect x="137" y="381" width="1" height="1" fill="#000"/>
<rect x="144" y="380" width="1" height="4" fill="#fff"/>
<rect x="146" y="380" width="1" height="4" fill="#fff"/>
<rect x="148" y="380" width="1" height="4" fill="#fff"/>
<rect x="148" y="381" width="1" height="1" fill="#000"/>
<rect x="155" y="380" width="1" height="4" fill="#fff"/>
<rect x="157" y="380" width="1" height="4" fill="#fff"/>
<rect x="159" y="380" width="1" height="4" fill="#fff"/>
<rect x="159" y="381" width="1" height="1" fill="#000"/>
<rect x="167" y="380" width="1" height="4" fill="#fff"/>
<rect x="167" y="381" width="1" height="1" fill="#000"/>
<rect x="169" y="380" width="1" height="4" fill="#fff"/>
<rect x="169" y="381" width="1" height="1" fill="#000"/>
<rect x="171" y="380" width="1" height="4" fill="#fff"/>
<rect x="173" y="380" width="1" height="4" fill="#fff"/>
<rect x="181" y="380" width="1" height="4" fill="#fff"/>
<rect x="181" y="381" width="1" height="1" fill="#000"/>
<rect x="183" y="380" width="1" height="4" fill="#fff"/>
<rect x="185" y="380" width="1" height="4" fill="#fff"/>
<rect x="185" y="381" width="1" height="1" fill="#000"/>
<rect x="187" y="380" width="1" height="4" fill="#fff"/>
<rect x="187" y="381" width="1" height="1" fill="#000"/>
<rect x="189" y="380" width="1" height="4" fill="#fff"/>
<rect x="197" y="380" width="1" height="4" fill="#fff"/>
<rect x="197" y="381" width="1" height="1" fill="#000"/>
<rect x="199" y="380" width="1" height="4" fill="#fff"/>
<rect x="199" y="381" width="1" height="1" fill="#000"/>
<rect x="201" y="380" width="1" height="4" fill="#fff"/>
<rect x="203" y="380" width="1" height="4" fill="#fff"/>
<rect x="203" y="381" width="1" height="1" fill="#000"/>
<rect x="212" y="380" width="1" height="4" fill="#fff"/>
<rect x="212" y="381" width="1" height="1" fill="#000"/>
<rect x="214" y="380" width="1" height="4" fill="#fff"/>
<rect x="224" y="380" width="1" height="4" fill="#fff"/>
<rect x="224" y="381" width="1" height="1" fill="#000"/>
<rect x="226" y="380" width="1" height="4" fill="#fff"/>
<rect x="228" y="380" width="1" height="4" fill="#fff"/>
<rect x="230" y="380" width="1" height="4" fill="#fff"/>
<rect x="230" y="381" width="1" height="1" fill="#000"/>
<rect x="232" y="380" width="1" height="4" fill="#fff"/>
<rect x="239" y="380" width="1" height="4" fill="#fff"/>
<rect x="239" y="381" width="1" height="1" fill="#000"/>
<rect x="241" y="380" width="1" height="4" fill="#fff"/>
<rect x="243" y="380" width="1" height="4" fill="#fff"/>
<rect x="245" y="380" width="1" height="4" fill="#fff"/>
<rect x="247" y="380" width="1" height="4" fill="#fff"/>
<rect x="247" y="381" width="1" height="1" fill="#000"/>
<rect x="254" y="380" width="1" height="4" fill="#fff"/>
<rect x="254" y="381" width="1" height="1" fill="#000"/>
<rect x="256" y="380" width="1" height="4" fill="#fff"/>
<rect x="256" y="381" width="1" height="1" fill="#000"/>
<rect x="258" y="380" width="1" height="4" fill="#fff"/>
<rect x="260" y="380" width="1" height="4" fill="#fff"/>
<rect x="260" y="381" width="1" height="1" fill="#000"/>
<rect x="67" y="390" width="222" height="13" fill="#000"/>
<rect x="68" y="391" width="5" height="2" fill="#fff"/>
<rect x="283" y="391" width="5" height="2" fill="#fff"/>
<rect x="68" y="394" width="5" height="3" fill="#fff"/>
<rect x="283" y="394" width="5" height="3" fill="#fff"/>
<rect x="68" y="398" width="5" height="4" fill="#fff"/>
<rect x="283" y="398" width="5" height="4" fill="#fff"/>
<rect x="74" y="391" width="208" height="1" fill="#fff"/>
<rect x="83" y="401" width="190" height="1" fill="#fff"/>
<rect x="77" y="393" width="7" height="4" fill="#fff"/>
<rect x="78" y="396" width="5" height="1" fill="#000"/>
<rect x="77" y="398" width="6" height="3" fill="#fff"/>
<rect x="79" y="398" width="4" height="2" fill="#000"/>
<rect x="83" y="397" width="3" height="5" fill="#fff"/>
<rect x="272" y="393" width="7" height="4" fill="#fff"/>
<rect x="273" y="396" width="5" height="1" fill="#000"/>
<rect x="273" y="398" width="6" height="3" fill="#fff"/>
<rect x="273" y="398" width="4" height="2" fill="#000"/>
<rect x="270" y="397" width="3" height="5" fill="#fff"/>
<rect x="87" y="393" width="1" height="4" fill="#fff"/>
<rect x="89" y="393" width="1" height="4" fill="#fff"/>
<rect x="91" y="393" width="1" height="4" fill="#fff"/>
<rect x="93" y="393" width="1" height="4" fill="#fff"/>
<rect x="95" y="393" width="1" height="4" fill="#fff"/>
<rect x="102" y="393" width="1" height="4" fill="#fff"/>
<rect x="104" y="393" width="1" height="4" fill="#fff"/>
<rect x="106" y="393" width="1" height="4" fill="#fff"/>
<rect x="108" y="393" width="1" height="4" fill="#fff"/>
<rect x="117" y="393" width="1" height="4" fill="#fff"/>
<rect x="119" y="393" width="1" height="4" fill="#fff"/>
<rect x="126" y="393" width="1" height="4" fill="#fff"/>
<rect x="128" y="393" width="1" height="4" fill="#fff"/>
<rect x="130" y="393" width="1" height="4" fill="#fff"/>
<rect x="140" y="393" width="1" height="4" fill="#fff"/>
<rect x="142" y="393" width="1" height="4" fill="#fff"/>
<rect x="144" y="393" width="1" height="4" fill="#fff"/>
<rect x="146" y="393" width="1" height="4" fill="#fff"/>
<rect x="148" y="393" width="1" height="4" fill="#fff"/>
<rect x="157" y="393" width="1" height="4" fill="#fff"/>
<rect x="159" y="393" width="1" height="4" fill="#fff"/>
<rect x="161" y="393" width="1" height="4" fill="#fff"/>
<rect x="163" y="393" width="1" height="4" fill="#fff"/>
<rect x="170" y="393" width="1" height="4" fill="#fff"/>
<rect x="172" y="393" width="1" height="4" fill="#fff"/>
<rect x="174" y="393" width="1" height="4" fill="#fff"/>
<rect x="176" y="393" width="1" height="4" fill="#fff"/>
<rect x="186" y="393" width="1" height="4" fill="#fff"/>
<rect x="188" y="393" width="1" height="4" fill="#fff"/>
<rect x="190" y="393" width="1" height="4" fill="#fff"/>
<rect x="200" y="393" width="1" height="4" fill="#fff"/>
<rect x="202" y="393" width="1" height="4" fill="#fff"/>
<rect x="204" y="393" width="1" height="4" fill="#fff"/>
<rect x="206" y="393" width="1" height="4" fill="#fff"/>
<rect x="208" y="393" width="1" height="4" fill="#fff"/>
<rect x="215" y="393" width="1" height="4" fill="#fff"/>
<rect x="217" y="393" width="1" height="4" fill="#fff"/>
<rect x="219" y="393" width="1" height="4" fill="#fff"/>
<rect x="228" y="393" width="1" height="4" fill="#fff"/>
<rect x="230" y="393" width="1" height="4" fill="#fff"/>
<rect x="232" y="393" width="1" height="4" fill="#fff"/>
<rect x="234" y="393" width="1" height="4" fill="#fff"/>
<rect x="236" y="393" width="1" height="4" fill="#fff"/>
<rect x="243" y="393" width="1" height="4" fill="#fff"/>
<rect x="245" y="393" width="1" height="4" fill="#fff"/>
<rect x="247" y="393" width="1" height="4" fill="#fff"/>
<rect x="249" y="393" width="1" height="4" fill="#fff"/>
<rect x="258" y="393" width="1" height="4" fill="#fff"/>
<rect x="260" y="393" width="1" height="4" fill="#fff"/>
<rect x="67" y="403" width="222" height="13" fill="#000"/>
<rect x="68" y="404" width="5" height="2" fill="#fff"/>
<rect x="283" y="404" width="5" height="2" fill="#fff"/>
<rect x="68" y="407" width="5" height="3" fill="#fff"/>
<rect x="283" y="407" width="5" height="3" fill="#fff"/>
<rect x="68" y="411" width="5" height="4" fill="#fff"/>
<rect x="283" y="411" width="5" height="4" fill="#fff"/>
<rect x="74" y="404" width="208" height="1" fill="#fff"/>
<rect x="83" y="414" width="190" height="1" fill="#fff"/>
<rect x="77" y="406" width="7" height="4" fill="#fff"/>
<rect x="78" y="409" width="5" height="1" fill="#000"/>
<rect x="77" y="411" width="6" height="3" fill="#fff"/>
<rect x="79" y="411" width="4" height="2" fill="#000"/>
<rect x="83" y="410" width="3" height="5" fill="#fff"/>
<rect x="272" y="406" width="7" height="4" fill="#fff"/>
<rect x="273" y="409" width="5" height="1" fill="#000"/>
<rect x="273" y="411" width="6" height="3" fill="#fff"/>
<rect x="273" y="411" width="4" height="2" fill="#000"/>
<rect x="270" y="410" width="3" height="5" fill="#fff"/>
<rect x="87" y="406" width="1" height="4" fill="#fff"/>
<rect x="89" y="406" width="1" height="4" fill="#fff"/>
<rect x="91" y="406" width="1" height="4" fill="#fff"/>
<rect x="93" y="406" width="1" height="4" fill="#fff"/>
<rect x="101" y="406" width="1" height="4" fill="#fff"/>
<rect x="103" y="406" width="1" height="4" fill="#fff"/>
<rect x="105" y="406" width="1" height="4" fill="#fff"/>
<rect x="107" y="406" width="1" height="4" fill="#fff"/>
<rect x="114" y="406" width="1" height="4" fill="#fff"/>
<rect x="116" y="406" width="1" height="4" fill="#fff"/>
<rect x="123" y="406" width="1" height="4" fill="#fff"/>
<rect x="125" y="406" width="1" height="4" fill="#fff"/>
<rect x="127" y="406" width="1" height="4" fill="#fff"/>
<rect x="129" y="406" width="1" height="4" fill="#fff"/>
<rect x="136" y="406" width="1" height="4" fill="#fff"/>
<rect x="138" y="406" width="1" height="4" fill="#fff"/>
<rect x="140" y="406" width="1" height="4" fill="#fff"/>
<rect x="142" y="406" width="1" height="4" fill="#fff"/>
<rect x="144" y="406" width="1" height="4" fill="#fff"/>
<rect x="152" y="406" width="1" height="4" fill="#fff"/>
<rect x="154" y="406" width="1" height="4" fill="#fff"/>
<rect x="161" y="406" width="1" height="4" fill="#fff"/>
<rect x="163" y="406" width="1" height="4" fill="#fff"/>
<rect x="165" y="406" width="1" height="4" fill="#fff"/>
<rect x="167" y="406" width="1" height="4" fill="#fff"/>
<rect x="177" y="406" width="1" height="4" fill="#fff"/>
<rect x="179" y="406" width="1" height="4" fill="#fff"/>
<rect x="187" y="406" width="1" height="4" fill="#fff"/>
<rect x="189" y="406" width="1" height="4" fill="#fff"/>
<rect x="199" y="406" width="1" height="4" fill="#fff"/>
<rect x="201" y="406" width="1" height="4" fill="#fff"/>
<rect x="208" y="406" width="1" height="4" fill="#fff"/>
<rect x="210" y="406" width="1" height="4" fill="#fff"/>
<rect x="212" y="406" width="1" height="4" fill="#fff"/>
<rect x="219" y="406" width="1" height="4" fill="#fff"/>
<rect x="221" y="406" width="1" height="4" fill="#fff"/>
<rect x="223" y="406" width="1" height="4" fill="#fff"/>
<rect x="225" y="406" width="1" height="4" fill="#fff"/>
<rect x="227" y="406" width="1" height="4" fill="#fff"/>
<rect x="237" y="406" width="1" height="4" fill="#fff"/>
<rect x="239" y="406" width="1" height="4" fill="#fff"/>
<rect x="247" y="406" width="1" height="4" fill="#fff"/>
<rect x="249" y="406" width="1" height="4" fill="#fff"/>
<rect x="257" y="406" width="1" height="4" fill="#fff"/>
<rect x="259" y="406" width="1" height="4" fill="#fff"/>
<rect x="261" y="406" width="1" height="4" fill="#fff"/>
<rect x="263" y="406" width="1" height="4" fill="#fff"/>
<rect x="67" y="417" width="222" height="13" fill="#000"/>
<rect x="68" y="418" width="5" height="2" fill="#fff"/>
<rect x="283" y="418" width="5" height="2" fill="#fff"/>
<rect x="68" y="421" width="5" height="3" fill="#fff"/>
<rect x="283" y="421" width="5" height="3" fill="#fff"/>
<rect x="68" y="425" width="5" height="4" fill="#fff"/>
<rect x="283" y="425" width="5" height="4" fill="#fff"/>
<rect x="74" y="418" width="208" height="1" fill="#fff"/>
<rect x="83" y="428" width="190" height="1" fill="#fff"/>
<rect x="77" y="420" width="7" height="4" fill="#fff"/>
<rect x="78" y="423" width="5" height="1" fill="#000"/>
<rect x="77" y="425" width="6" height="3" fill="#fff"/>
<rect x="79" y="425" width="4" height="2" fill="#000"/>
<rect x="83" y="424" width="3" height="5" fill="#fff"/>
<rect x="272" y="420" width="7" height="4" fill="#fff"/>
<rect x="273" y="423" width="5" height="1" fill="#000"/>
<rect x="273" y="425" width="6" height="3" fill="#fff"/>
<rect x="273" y="425" width="4" height="2" fill="#000"/>
<rect x="270" y="424" width="3" height="5" fill="#fff"/>
<rect x="87" y="420" width="1" height="4" fill="#fff"/>
<rect x="87" y="421" width="1" height="1" fill="#000"/>
<rect x="89" y="420" width="1" height="4" fill="#fff"/>
<rect x="89" y="421" width="1" height="1" fill="#000"/>
<rect x="91" y="420" width="1" height="4" fill="#fff"/>
<rect x="91" y="421" width="1" height="1" fill="#000"/>
<rect x="98" y="420" width="1" height="4" fill="#fff"/>
<rect x="98" y="421" width="1" height="1" fill="#000"/>
<rect x="100" y="420" width="1" height="4" fill="#fff"/>
<rect x="108" y="420" width="1" height="4" fill="#fff"/>
<rect x="110" y="420" width="1" height="4" fill="#fff"/>
<rect x="112" y="420" width="1" height="4" fill="#fff"/>
<rect x="114" y="420" width="1" height="4" fill="#fff"/>
<rect x="122" y="420" width="1" height="4" fill="#fff"/>
<rect x="122" y="421" width="1" height="1" fill="#000"/>
<rect x="124" y="420" width="1" height="4" fill="#fff"/>
<rect x="124" y="421" width="1" height="1" fill="#000"/>
<rect x="126" y="420" width="1" height="4" fill="#fff"/>
<rect x="126" y="421" width="1" height="1" fill="#000"/>
<rect x="128" y="420" width="1" height="4" fill="#fff"/>
<rect x="128" y="421" width="1" height="1" fill="#000"/>
<rect x="138" y="420" width="1" height="4" fill="#fff"/>
<rect x="140" y="420" width="1" height="4" fill="#fff"/>
<rect x="140" y="421" width="1" height="1" fill="#000"/>
<rect x="142" y="420" width="1" height="4" fill="#fff"/>
<rect x="142" y="421" width="1" height="1" fill="#000"/>
<rect x="144" y="420" width="1" height="4" fill="#fff"/>
<rect x="144" y="421" width="1" height="1" fill="#000"/>
<rect x="151" y="420" width="1" height="4" fill="#fff"/>
<rect x="153" y="420" width="1" height="4" fill="#fff"/>
<rect x="153" y="421" width="1" height="1" fill="#000"/>
<rect x="155" y="420" width="1" height="4" fill="#fff"/>
<rect x="157" y="420" width="1" height="4" fill="#fff"/>
<rect x="157" y="421" width="1" height="1" fill="#000"/>
<rect x="164" y="420" width="1" height="4" fill="#fff"/>
<rect x="166" y="420" width="1" height="4" fill="#fff"/>
<rect x="168" y="420" width="1" height="4" fill="#fff"/>
<rect x="168" y="421" width="1" height="1" fill="#000"/>
<rect x="170" y="420" width="1" height="4" fill="#fff"/>
<rect x="177" y="420" width="1" height="4" fill="#fff"/>
<rect x="179" y="420" width="1" height="4" fill="#fff"/>
<rect x="181" y="420" width="1" height="4" fill="#fff"/>
<rect x="181" y="421" width="1" height="1" fill="#000"/>
<rect x="183" y="420" width="1" height="4" fill="#fff"/>
<rect x="185" y="420" width="1" height="4" fill="#fff"/>
<rect x="195" y="420" width="1" height="4" fill="#fff"/>
<rect x="197" y="420" width="1" height="4" fill="#fff"/>
<rect x="199" y="420" width="1" height="4" fill="#fff"/>
<rect x="201" y="420" width="1" height="4" fill="#fff"/>
<rect x="201" y="421" width="1" height="1" fill="#000"/>
<rect x="208" y="420" width="1" height="4" fill="#fff"/>
<rect x="210" y="420" width="1" height="4" fill="#fff"/>
<rect x="212" y="420" width="1" height="4" fill="#fff"/>
<rect x="214" y="420" width="1" height="4" fill="#fff"/>
<rect x="216" y="420" width="1" height="4" fill="#fff"/>
<rect x="224" y="420" width="1" height="4" fill="#fff"/>
<rect x="224" y="421" width="1" height="1" fill="#000"/>
<rect x="226" y="420" width="1" height="4" fill="#fff"/>
<rect x="228" y="420" width="1" height="4" fill="#fff"/>
<rect x="230" y="420" width="1" height="4" fill="#fff"/>
<rect x="230" y="421" width="1" height="1" fill="#000"/>
<rect x="238" y="420" width="1" height="4" fill="#fff"/>
<rect x="238" y="421" width="1" height="1" fill="#000"/>
<rect x="240" y="420" width="1" height="4" fill="#fff"/>
<rect x="240" y="421" width="1" height="1" fill="#000"/>
<rect x="242" y="420" width="1" height="4" fill="#fff"/>
<rect x="242" y="421" width="1" height="1" fill="#000"/>
<rect x="244" y="420" width="1" height="4" fill="#fff"/>
<rect x="244" y="421" width="1" height="1" fill="#000"/>
<rect x="254" y="420" width="1" height="4" fill="#fff"/>
<rect x="254" y="421" width="1" height="1" fill="#000"/>
<rect x="256" y="420" width="1" height="4" fill="#fff"/>
<rect x="258" y="420" width="1" height="4" fill="#fff"/>
<rect x="260" y="420" width="1" height="4" fill="#fff"/>
<rect x="260" y="421" width="1" height="1" fill="#000"/>
<rect x="175" y="341" width="7" height="3" fill="#fff"/>
<rect x="175" y="370" width="7" height="3" fill="#fff"/>
<rect x="175" y="397" width="7" height="3" fill="#fff"/>
<rect x="175" y="424" width="7" height="3" fill="#fff"/>
<rect x="153.7" y="327.9" width="48.2" height="13.1" fill="#000"/>
<rect x="155.7" y="328.9" width="44.2" height="11.1" fill="#fff"/>
<text x="157.08" y="338.00" font-size="11.20" fill="#000" textLength="40.02" lengthAdjust="spacingAndGlyphs" filter="url(#th)" >BANK 3</text>
<rect x="153.7" y="356.3" width="48.2" height="12.7" fill="#000"/>
<rect x="155.7" y="357.3" width="44.2" height="10.7" fill="#fff"/>
<text x="157.06" y="366.00" font-size="11.20" fill="#000" textLength="40.82" lengthAdjust="spacingAndGlyphs" filter="url(#th)" >BANK 2</text>
<rect x="153.7" y="383" width="48.2" height="13" fill="#000"/>
<rect x="155.7" y="384" width="44.2" height="11" fill="#fff"/>
<text x="157.69" y="393.00" font-size="11.20" fill="#000" textLength="39.45" lengthAdjust="spacingAndGlyphs" filter="url(#th)" >BANK 1</text>
<rect x="153.7" y="410.6" width="48.2" height="12.7" fill="#000"/>
<rect x="155.7" y="411.6" width="44.2" height="10.7" fill="#fff"/>
<text x="157.69" y="419.60" font-size="11.20" fill="#000" textLength="39.34" lengthAdjust="spacingAndGlyphs" filter="url(#th)" >BANK 0</text>
<rect x="31" y="170" width="6" height="15" fill="#000"/>
<rect x="35" y="171" width="1" height="13" fill="#fff"/>
<rect x="32" y="176" width="3" height="1" fill="#fff"/>
<rect x="32" y="180" width="3" height="1" fill="#fff"/>
<rect x="37" y="177" width="5" height="3" fill="#000"/>
<polygon points="50,174 46,176 41,177.3 41,179.7 46,181 50,183" fill="#000"/>
<polygon points="51,177.9 45,178.2 45,178.8 51,179.1" fill="#fff"/>
<rect x="49.00" y="173.00" width="18.50" height="12.60" rx="2.5" fill="#fff" stroke="#000" stroke-width="2" shape-rendering="auto"/>
<text x="52.05" y="182.80" font-size="11.20" fill="#000" textLength="9.70" lengthAdjust="spacingAndGlyphs" filter="url(#th)" >J1</text>
<rect x="44" y="248" width="5" height="11" fill="#000"/>
<rect x="45" y="252" width="3" height="1" fill="#fff"/>
<rect x="45" y="255" width="3" height="1" fill="#fff"/>
<rect x="40" y="252" width="4" height="2" fill="#000"/>
<polygon points="31,248.5 35,250.5 41,251.8 41,254.2 35,255.5 31,257.5" fill="#000"/>
<polygon points="30,252.4 36,252.7 36,253.3 30,253.6" fill="#fff"/>
<rect x="4.60" y="246.50" width="26.40" height="12.30" rx="2.5" fill="#fff" stroke="#000" stroke-width="2" shape-rendering="auto"/>
<text x="8.34" y="256.00" font-size="11.20" fill="#000" textLength="16.94" lengthAdjust="spacingAndGlyphs" filter="url(#th)" >JP1</text>
<rect x="377" y="181" width="6" height="11" fill="#000"/>
<rect x="378" y="186" width="4" height="1" fill="#fff"/>
<rect x="374" y="185.5" width="3" height="2" fill="#000"/>
<polygon points="364,182 368,184 374,185.3 374,187.7 368,189 364,191" fill="#000"/>
<polygon points="363,185.9 369,186.2 369,186.8 363,187.1" fill="#fff"/>
<rect x="338.30" y="180.00" width="26.50" height="12.40" rx="2.5" fill="#fff" stroke="#000" stroke-width="2" shape-rendering="auto"/>
<text x="341.63" y="189.50" font-size="11.20" fill="#000" textLength="18.32" lengthAdjust="spacingAndGlyphs" filter="url(#th)" >JP5</text>
<rect x="556" y="198" width="6" height="12" fill="#000"/>
<rect x="557" y="200" width="4" height="1" fill="#fff"/>
<rect x="557" y="207" width="4" height="1" fill="#fff"/>
<rect x="553" y="203" width="3" height="2" fill="#000"/>
<polygon points="543,199 547,201 554,202.3 554,204.7 547,206 543,208" fill="#000"/>
<polygon points="542,202.9 548,203.2 548,203.8 542,204.1" fill="#fff"/>
<rect x="517.00" y="196.90" width="26.80" height="12.60" rx="2.5" fill="#fff" stroke="#000" stroke-width="2" shape-rendering="auto"/>
<text x="520.74" y="206.80" font-size="11.20" fill="#000" textLength="17.77" lengthAdjust="spacingAndGlyphs" filter="url(#th)" >JP4</text>
<rect x="393" y="400" width="6" height="11" fill="#000"/>
<rect x="394" y="404" width="4" height="1" fill="#fff"/>
<rect x="394" y="407" width="4" height="1" fill="#fff"/>
<rect x="399" y="404" width="5" height="2" fill="#000"/>
<polygon points="413,400.5 409,402.5 404,403.8 404,406.2 409,407.5 413,409.5" fill="#000"/>
<polygon points="414,404.4 408,404.7 408,405.3 414,405.6" fill="#fff"/>
<rect x="411.90" y="398.80" width="25.90" height="12.80" rx="2.5" fill="#fff" stroke="#000" stroke-width="2" shape-rendering="auto"/>
<text x="415.84" y="409.30" font-size="11.20" fill="#000" textLength="17.57" lengthAdjust="spacingAndGlyphs" filter="url(#th)" >JP2</text>
<rect x="597" y="397" width="6" height="11" fill="#000"/>
<rect x="598" y="402" width="4" height="1" fill="#fff"/>
<rect x="598" y="405" width="4" height="1" fill="#fff"/>
<polygon points="598.3,384 602.2,384 600.8,397 599.2,397" fill="#000"/>
<rect x="588.10" y="369.90" width="25.90" height="13.80" rx="2.5" fill="#fff" stroke="#000" stroke-width="2" shape-rendering="auto"/>
<text x="591.53" y="380.00" font-size="11.20" fill="#000" textLength="18.34" lengthAdjust="spacingAndGlyphs" filter="url(#th)" >JP3</text>
<rect x="599.5" y="382" width="1.5" height="3" fill="#fff"/>
<rect x="47" y="346" width="11" height="25" fill="#000"/>
<rect x="49" y="351" width="8" height="1" fill="#fff"/>
<rect x="49" y="355" width="8" height="1" fill="#fff"/>
<rect x="49" y="359" width="8" height="1" fill="#fff"/>
<rect x="49" y="363" width="8" height="1" fill="#fff"/>
<rect x="49" y="366" width="8" height="1" fill="#fff"/>
<rect x="51" y="348" width="1" height="22" fill="#fff"/>
<rect x="55" y="348" width="1" height="22" fill="#fff"/>
<rect x="45" y="374" width="5" height="21" fill="#000"/>
<rect x="51" y="374" width="6" height="21" fill="#000"/>
<rect x="47" y="376" width="1" height="17" fill="#fff"/>
<rect x="53" y="376" width="1" height="17" fill="#fff"/>
<rect x="46" y="380" width="3" height="1" fill="#fff"/>
<rect x="52" y="380" width="4" height="1" fill="#fff"/>
<rect x="46" y="385" width="3" height="1" fill="#fff"/>
<rect x="52" y="385" width="4" height="1" fill="#fff"/>
<rect x="46" y="389" width="3" height="1" fill="#fff"/>
<rect x="52" y="389" width="4" height="1" fill="#fff"/>
<polygon points="35,353 39,355 47,356.3 47,358.7 39,360 35,362" fill="#000"/>
<polygon points="34,356.9 40,357.2 40,357.8 34,358.1" fill="#fff"/>
<rect x="15.90" y="351.70" width="19.00" height="11.40" rx="2.5" fill="#fff" stroke="#000" stroke-width="2" shape-rendering="auto"/>
<text x="19.52" y="361.20" font-size="11.20" fill="#000" textLength="12.06" lengthAdjust="spacingAndGlyphs" filter="url(#th)" >J2</text>
<polygon points="32,379 36,381 45,382.3 45,384.7 36,386 32,388" fill="#000"/>
<polygon points="31,382.9 37,383.2 37,383.8 31,384.1" fill="#fff"/>
<rect x="14.20" y="377.60" width="17.50" height="11.70" rx="2.5" fill="#fff" stroke="#000" stroke-width="2" shape-rendering="auto"/>
<text x="17.12" y="387.00" font-size="11.20" fill="#000" textLength="11.98" lengthAdjust="spacingAndGlyphs" filter="url(#th)" >J3</text>
<polygon points="44,401 47,401 55,394 52,394" fill="#000"/>
<rect x="30.40" y="401.00" width="17.40" height="12.60" rx="2.5" fill="#fff" stroke="#000" stroke-width="2" shape-rendering="auto"/>
<text x="33.32" y="411.30" font-size="11.20" fill="#000" textLength="11.80" lengthAdjust="spacingAndGlyphs" filter="url(#th)" >J4</text>
<rect x="642" y="46" width="6" height="9" fill="#000"/>
<rect x="640" y="49" width="15" height="5" fill="#000"/>
<rect x="641" y="50" width="13" height="3" fill="#fff"/>
<rect x="642" y="49" width="6" height="5" fill="#000"/>
<rect x="619" y="55" width="28" height="36" fill="#000"/>
<rect x="647" y="56" width="13" height="33" fill="#000"/>
<rect x="648" y="57" width="11" height="31" fill="#fff"/>
<rect x="642" y="90" width="5" height="10" fill="#000"/>
<rect x="640" y="92" width="15" height="5" fill="#000"/>
<rect x="641" y="93" width="13" height="3" fill="#fff"/>
<rect x="642" y="92" width="5" height="5" fill="#000"/>
<rect x="645" y="100" width="2" height="6" fill="#000"/>
<rect x="627.00" y="66.70" width="25.10" height="12.90" rx="1.5" fill="#fff" stroke="#000" stroke-width="2" shape-rendering="auto"/>
<text x="629.05" y="75.60" font-size="11.20" fill="#000" textLength="21.74" lengthAdjust="spacingAndGlyphs" filter="url(#th)" >CN6</text>
<rect x="642" y="104" width="4" height="9" fill="#000"/>
<rect x="638" y="106" width="16" height="5" fill="#000"/>
<rect x="639" y="107" width="14" height="3" fill="#fff"/>
<rect x="642" y="106" width="4" height="5" fill="#000"/>
<rect x="623" y="113" width="22" height="73" fill="#000"/>
<rect x="646" y="113" width="2" height="80" fill="#000"/>
<rect x="647" y="113" width="11" height="72" fill="#000"/>
<rect x="648" y="114" width="9" height="70" fill="#fff"/>
<rect x="638" y="188" width="16" height="5" fill="#000"/>
<rect x="639" y="189" width="14" height="3" fill="#fff"/>
<rect x="645" y="188" width="3" height="5" fill="#000"/>
<rect x="628.00" y="142.90" width="25.50" height="12.80" rx="1.5" fill="#fff" stroke="#000" stroke-width="2" shape-rendering="auto"/>
<text x="630.37" y="152.40" font-size="11.20" fill="#000" textLength="20.98" lengthAdjust="spacingAndGlyphs" filter="url(#th)" >CN5</text>
<rect x="642" y="200" width="5" height="9" fill="#000"/>
<rect x="640" y="203" width="14" height="4" fill="#000"/>
<rect x="641" y="204" width="12" height="2" fill="#fff"/>
<rect x="642" y="203" width="5" height="4" fill="#000"/>
<rect x="619" y="209" width="28" height="36" fill="#000"/>
<rect x="646" y="210" width="13" height="33" fill="#000"/>
<rect x="647" y="211" width="11" height="31" fill="#fff"/>
<rect x="642" y="244" width="5" height="15" fill="#000"/>
<rect x="640" y="246" width="14" height="5" fill="#000"/>
<rect x="641" y="247" width="12" height="3" fill="#fff"/>
<rect x="642" y="246" width="5" height="5" fill="#000"/>
<rect x="628.00" y="221.00" width="25.00" height="13.20" rx="1.5" fill="#fff" stroke="#000" stroke-width="2" shape-rendering="auto"/>
<text x="629.16" y="231.00" font-size="11.20" fill="#000" textLength="21.26" lengthAdjust="spacingAndGlyphs" filter="url(#th)" >CN4</text>
<rect x="640" y="259" width="14" height="5" fill="#000"/>
<rect x="641" y="260" width="12" height="3" fill="#fff"/>
<rect x="640" y="259" width="7" height="5" fill="#000"/>
<rect x="619" y="265" width="28" height="35" fill="#000"/>
<rect x="646" y="266" width="13" height="34" fill="#000"/>
<rect x="647" y="267" width="11" height="32" fill="#fff"/>
<rect x="641" y="300" width="6" height="11" fill="#000"/>
<rect x="640" y="302" width="14" height="5" fill="#000"/>
<rect x="641" y="303" width="12" height="3" fill="#fff"/>
<rect x="640" y="302" width="7" height="5" fill="#000"/>
<rect x="627.60" y="276.90" width="25.40" height="13.30" rx="1.5" fill="#fff" stroke="#000" stroke-width="2" shape-rendering="auto"/>
<text x="629.16" y="287.70" font-size="11.20" fill="#000" textLength="21.32" lengthAdjust="spacingAndGlyphs" filter="url(#th)" >CN3</text>
<rect x="615" y="316" width="27" height="33" fill="#000"/>
<rect x="616" y="317" width="25" height="31" fill="#fff"/>
<rect x="641" y="316" width="7" height="33" fill="#000"/>
<path d="M642,325.6 H621 Q618,325.6 618,328.6 V335.8 Q618,338.9 621,338.9 H642 Z" fill="#fff" stroke="#000" stroke-width="1.8" shape-rendering="auto"/>
<text x="620.36" y="336.00" font-size="11.20" fill="#000" textLength="21.17" lengthAdjust="spacingAndGlyphs" filter="url(#th)" >CN2</text>
<rect x="646" y="349" width="2" height="10" fill="#000"/>
<rect x="642" y="359" width="6" height="5" fill="#000"/>
<rect x="622" y="364" width="26" height="30" fill="#000"/>
<rect x="642" y="394" width="6" height="6" fill="#000"/>
<rect x="617" y="371" width="6" height="8" fill="#000"/>
<rect x="618" y="372" width="4" height="6" fill="#fff"/>
<rect x="617" y="380" width="6" height="8" fill="#000"/>
<rect x="618" y="381" width="4" height="6" fill="#fff"/>
<rect x="421" y="54" width="46" height="11" fill="#000"/>
<rect x="423" y="63" width="2" height="1" fill="#fff"/>
<rect x="427" y="63" width="2" height="1" fill="#fff"/>
<rect x="431" y="63" width="2" height="1" fill="#fff"/>
<rect x="435" y="63" width="2" height="1" fill="#fff"/>
<rect x="439" y="63" width="2" height="1" fill="#fff"/>
<rect x="443" y="63" width="2" height="1" fill="#fff"/>
<rect x="447" y="63" width="2" height="1" fill="#fff"/>
<rect x="451" y="63" width="2" height="1" fill="#fff"/>
<rect x="455" y="63" width="2" height="1" fill="#fff"/>
<rect x="459" y="63" width="2" height="1" fill="#fff"/>
<rect x="463" y="63" width="2" height="1" fill="#fff"/>
<line x1="430" y1="32" x2="441.5" y2="54" stroke="#000" stroke-width="2.2" shape-rendering="auto"/>
<line x1="447.5" y1="21" x2="447.5" y2="54" stroke="#000" stroke-width="1.5" shape-rendering="auto"/>
<line x1="452" y1="21" x2="449" y2="54" stroke="#000" stroke-width="2" shape-rendering="auto"/>
<line x1="467" y1="30" x2="454" y2="54" stroke="#000" stroke-width="2.2" shape-rendering="auto"/>
<line x1="424" y1="47" x2="430" y2="54" stroke="#000" stroke-width="1.5" shape-rendering="auto"/>
<line x1="472" y1="45" x2="463" y2="54" stroke="#000" stroke-width="1.5" shape-rendering="auto"/>
<line x1="423" y1="65" x2="416" y2="71" stroke="#000" stroke-width="2" shape-rendering="auto"/>
<line x1="436" y1="65" x2="421" y2="87" stroke="#000" stroke-width="1.5" shape-rendering="auto"/>
<line x1="439" y1="65" x2="423" y2="87" stroke="#000" stroke-width="1.5" shape-rendering="auto"/>
<line x1="456" y1="65" x2="465" y2="72" stroke="#000" stroke-width="2" shape-rendering="auto"/>
<rect x="431.40" y="7.70" width="32.60" height="12.00" rx="2.5" fill="#fff" stroke="#000" stroke-width="2" shape-rendering="auto"/>
<text x="432.84" y="18.80" font-size="11.20" fill="#000" textLength="26.68" lengthAdjust="spacingAndGlyphs" filter="url(#th)" >EISA</text>
<rect x="404.50" y="19.00" width="24.50" height="12.50" rx="2.5" fill="#fff" stroke="#000" stroke-width="2" shape-rendering="auto"/>
<text x="406.75" y="29.00" font-size="11.20" fill="#000" textLength="21.27" lengthAdjust="spacingAndGlyphs" filter="url(#th)" >VGA</text>
<rect x="465.20" y="18.00" width="31.30" height="12.00" rx="2.5" fill="#fff" stroke="#000" stroke-width="2" shape-rendering="auto"/>
<text x="467.51" y="28.00" font-size="11.20" fill="#000" textLength="25.08" lengthAdjust="spacingAndGlyphs" filter="url(#th)" >SCSI</text>
<rect x="398.50" y="35.00" width="25.00" height="13.00" rx="2.5" fill="#fff" stroke="#000" stroke-width="2" shape-rendering="auto"/>
<text x="400.83" y="44.50" font-size="11.20" fill="#000" textLength="18.72" lengthAdjust="spacingAndGlyphs" filter="url(#th)" >JP7</text>
<rect x="470.30" y="32.80" width="30.40" height="12.70" rx="2.5" fill="#fff" stroke="#000" stroke-width="2" shape-rendering="auto"/>
<text x="471.70" y="42.30" font-size="11.20" fill="#000" textLength="28.40" lengthAdjust="spacingAndGlyphs" filter="url(#th)" >PASS</text>
<rect x="392.10" y="70.80" width="25.80" height="12.80" rx="2.5" fill="#fff" stroke="#000" stroke-width="2" shape-rendering="auto"/>
<text x="395.73" y="80.00" font-size="11.20" fill="#000" textLength="17.92" lengthAdjust="spacingAndGlyphs" filter="url(#th)" >JP8</text>
<rect x="397.40" y="87.30" width="23.80" height="12.20" rx="2.5" fill="#fff" stroke="#000" stroke-width="2" shape-rendering="auto"/>
<text x="398.99" y="97.00" font-size="11.20" fill="#000" textLength="21.49" lengthAdjust="spacingAndGlyphs" filter="url(#th)" >CRD</text>
<rect x="464.00" y="70.80" width="31.90" height="12.80" rx="2.5" fill="#fff" stroke="#000" stroke-width="2" shape-rendering="auto"/>
<text x="465.98" y="81.10" font-size="11.20" fill="#000" textLength="26.94" lengthAdjust="spacingAndGlyphs" filter="url(#th)" >BIOS</text>
<rect x="383" y="55" width="21" height="5" fill="#000"/>
<rect x="385" y="56" width="1" height="3" fill="#fff"/>
<rect x="389" y="56" width="1" height="3" fill="#fff"/>
<rect x="393" y="56" width="1" height="3" fill="#fff"/>
<rect x="397" y="56" width="1" height="3" fill="#fff"/>
<rect x="402" y="56" width="1" height="3" fill="#fff"/>
<rect x="372" y="56" width="11" height="2.5" fill="#000"/>
<polygon points="370,52.5 374,54.5 378,55.8 378,58.2 374,59.5 370,61.5" fill="#000"/>
<polygon points="369,56.4 375,56.7 375,57.3 369,57.6" fill="#fff"/>
<rect x="352.40" y="50.10" width="18.10" height="13.60" rx="2.5" fill="#fff" stroke="#000" stroke-width="2" shape-rendering="auto"/>
<text x="354.62" y="59.70" font-size="11.20" fill="#000" textLength="11.96" lengthAdjust="spacingAndGlyphs" filter="url(#th)" >J5</text>
<rect x="486" y="53" width="5" height="10" fill="#000"/>
<rect x="487" y="57" width="3" height="1" fill="#fff"/>
<line x1="489" y1="61" x2="499" y2="68" stroke="#000" stroke-width="1.6" shape-rendering="auto"/>
<rect x="497.40" y="65.90" width="24.60" height="12.30" rx="2.5" fill="#fff" stroke="#000" stroke-width="2" shape-rendering="auto"/>
<text x="499.62" y="75.70" font-size="11.20" fill="#000" textLength="18.86" lengthAdjust="spacingAndGlyphs" filter="url(#th)" >JP6</text>
<rect x="500" y="51" width="62" height="10" fill="#000"/>
<rect x="505" y="52" width="1" height="8" fill="#fff"/>
<rect x="510" y="52" width="1" height="8" fill="#fff"/>
<rect x="514" y="52" width="1" height="8" fill="#fff"/>
<rect x="519" y="52" width="1" height="8" fill="#fff"/>
<rect x="524" y="52" width="1" height="8" fill="#fff"/>
<rect x="529" y="52" width="1" height="8" fill="#fff"/>
<rect x="534" y="52" width="1" height="8" fill="#fff"/>
<rect x="538" y="52" width="1" height="8" fill="#fff"/>
<rect x="543" y="52" width="1" height="8" fill="#fff"/>
<rect x="548" y="52" width="1" height="8" fill="#fff"/>
<rect x="552" y="52" width="1" height="8" fill="#fff"/>
<rect x="557" y="52" width="1" height="8" fill="#fff"/>
<rect x="562" y="54" width="6" height="3.5" fill="#000"/>
<polygon points="575,51.5 571,53.5 567,54.8 567,57.2 571,58.5 575,60.5" fill="#000"/>
<polygon points="576,55.4 570,55.7 570,56.3 576,56.6" fill="#fff"/>
<rect x="574.20" y="49.00" width="26.80" height="14.00" rx="2.5" fill="#fff" stroke="#000" stroke-width="2" shape-rendering="auto"/>
<text x="576.50" y="60.20" font-size="11.20" fill="#000" textLength="19.48" lengthAdjust="spacingAndGlyphs" filter="url(#th)" >CN1</text>
<rect x="421" y="87" width="89" height="19" fill="#000"/>
<rect x="423" y="104" width="1" height="1" fill="#fff"/>
<rect x="426" y="104" width="1" height="1" fill="#fff"/>
<rect x="429" y="104" width="1" height="1" fill="#fff"/>
<rect x="432" y="104" width="1" height="1" fill="#fff"/>
<rect x="435" y="104" width="1" height="1" fill="#fff"/>
<rect x="438" y="104" width="1" height="1" fill="#fff"/>
<rect x="441" y="104" width="1" height="1" fill="#fff"/>
<rect x="444" y="104" width="1" height="1" fill="#fff"/>
<rect x="447" y="104" width="1" height="1" fill="#fff"/>
<rect x="450" y="104" width="1" height="1" fill="#fff"/>
<rect x="453" y="104" width="1" height="1" fill="#fff"/>
<rect x="456" y="104" width="1" height="1" fill="#fff"/>
<rect x="459" y="104" width="1" height="1" fill="#fff"/>
<rect x="462" y="104" width="1" height="1" fill="#fff"/>
<rect x="465" y="104" width="1" height="1" fill="#fff"/>
<rect x="468" y="104" width="1" height="1" fill="#fff"/>
<rect x="471" y="104" width="1" height="1" fill="#fff"/>
<rect x="474" y="104" width="1" height="1" fill="#fff"/>
<rect x="477" y="104" width="1" height="1" fill="#fff"/>
<rect x="480" y="104" width="1" height="1" fill="#fff"/>
<rect x="483" y="104" width="1" height="1" fill="#fff"/>
<rect x="486" y="104" width="1" height="1" fill="#fff"/>
<rect x="489" y="104" width="1" height="1" fill="#fff"/>
<rect x="492" y="104" width="1" height="1" fill="#fff"/>
<rect x="495" y="104" width="1" height="1" fill="#fff"/>
<rect x="498" y="104" width="1" height="1" fill="#fff"/>
<rect x="501" y="104" width="1" height="1" fill="#fff"/>
<rect x="504" y="104" width="1" height="1" fill="#fff"/>
<rect x="507" y="104" width="1" height="1" fill="#fff"/>
<rect x="506" y="95" width="4" height="3" fill="#fff"/>
<rect x="443" y="90" width="46" height="12.4" fill="#000"/>
<rect x="444" y="90.8" width="44" height="10.6" fill="#fff"/>
<text x="444.75" y="100.30" font-size="11.20" fill="#000" textLength="41.41" lengthAdjust="spacingAndGlyphs" filter="url(#th)" >BANK 0</text>
<rect x="395" y="117" width="67" height="20" fill="#000"/>
<rect x="398" y="119" width="2" height="4" fill="#fff"/>
<rect x="398" y="131" width="2" height="4" fill="#fff"/>
<rect x="403" y="119" width="2" height="4" fill="#fff"/>
<rect x="403" y="131" width="2" height="4" fill="#fff"/>
<rect x="407" y="119" width="2" height="4" fill="#fff"/>
<rect x="407" y="131" width="2" height="4" fill="#fff"/>
<rect x="412" y="119" width="2" height="4" fill="#fff"/>
<rect x="412" y="131" width="2" height="4" fill="#fff"/>
<rect x="416" y="119" width="2" height="4" fill="#fff"/>
<rect x="416" y="131" width="2" height="4" fill="#fff"/>
<rect x="421" y="119" width="2" height="4" fill="#fff"/>
<rect x="421" y="131" width="2" height="4" fill="#fff"/>
<rect x="426" y="119" width="2" height="4" fill="#fff"/>
<rect x="426" y="131" width="2" height="4" fill="#fff"/>
<rect x="430" y="119" width="2" height="4" fill="#fff"/>
<rect x="430" y="131" width="2" height="4" fill="#fff"/>
<rect x="435" y="119" width="2" height="4" fill="#fff"/>
<rect x="435" y="131" width="2" height="4" fill="#fff"/>
<rect x="439" y="119" width="2" height="4" fill="#fff"/>
<rect x="439" y="131" width="2" height="4" fill="#fff"/>
<rect x="444" y="119" width="2" height="4" fill="#fff"/>
<rect x="444" y="131" width="2" height="4" fill="#fff"/>
<rect x="449" y="119" width="2" height="4" fill="#fff"/>
<rect x="449" y="131" width="2" height="4" fill="#fff"/>
<rect x="453" y="119" width="2" height="4" fill="#fff"/>
<rect x="453" y="131" width="2" height="4" fill="#fff"/>
<rect x="399" y="125" width="59" height="4" fill="#fff"/>
<rect x="425" y="124" width="5" height="6" fill="#000"/>
<rect x="462" y="117" width="71" height="20" fill="#000"/>
<rect x="465" y="119" width="2" height="4" fill="#fff"/>
<rect x="465" y="131" width="2" height="4" fill="#fff"/>
<rect x="470" y="119" width="2" height="4" fill="#fff"/>
<rect x="470" y="131" width="2" height="4" fill="#fff"/>
<rect x="474" y="119" width="2" height="4" fill="#fff"/>
<rect x="474" y="131" width="2" height="4" fill="#fff"/>
<rect x="479" y="119" width="2" height="4" fill="#fff"/>
<rect x="479" y="131" width="2" height="4" fill="#fff"/>
<rect x="483" y="119" width="2" height="4" fill="#fff"/>
<rect x="483" y="131" width="2" height="4" fill="#fff"/>
<rect x="488" y="119" width="2" height="4" fill="#fff"/>
<rect x="488" y="131" width="2" height="4" fill="#fff"/>
<rect x="493" y="119" width="2" height="4" fill="#fff"/>
<rect x="493" y="131" width="2" height="4" fill="#fff"/>
<rect x="497" y="119" width="2" height="4" fill="#fff"/>
<rect x="497" y="131" width="2" height="4" fill="#fff"/>
<rect x="502" y="119" width="2" height="4" fill="#fff"/>
<rect x="502" y="131" width="2" height="4" fill="#fff"/>
<rect x="506" y="119" width="2" height="4" fill="#fff"/>
<rect x="506" y="131" width="2" height="4" fill="#fff"/>
<rect x="511" y="119" width="2" height="4" fill="#fff"/>
<rect x="511" y="131" width="2" height="4" fill="#fff"/>
<rect x="516" y="119" width="2" height="4" fill="#fff"/>
<rect x="516" y="131" width="2" height="4" fill="#fff"/>
<rect x="520" y="119" width="2" height="4" fill="#fff"/>
<rect x="520" y="131" width="2" height="4" fill="#fff"/>
<rect x="525" y="119" width="2" height="4" fill="#fff"/>
<rect x="525" y="131" width="2" height="4" fill="#fff"/>
<rect x="466" y="125" width="63" height="4" fill="#fff"/>
<rect x="494" y="124" width="5" height="6" fill="#000"/>
<rect x="395" y="138" width="67" height="20" fill="#000"/>
<rect x="398" y="140" width="2" height="4" fill="#fff"/>
<rect x="398" y="152" width="2" height="4" fill="#fff"/>
<rect x="403" y="140" width="2" height="4" fill="#fff"/>
<rect x="403" y="152" width="2" height="4" fill="#fff"/>
<rect x="407" y="140" width="2" height="4" fill="#fff"/>
<rect x="407" y="152" width="2" height="4" fill="#fff"/>
<rect x="412" y="140" width="2" height="4" fill="#fff"/>
<rect x="412" y="152" width="2" height="4" fill="#fff"/>
<rect x="416" y="140" width="2" height="4" fill="#fff"/>
<rect x="416" y="152" width="2" height="4" fill="#fff"/>
<rect x="421" y="140" width="2" height="4" fill="#fff"/>
<rect x="421" y="152" width="2" height="4" fill="#fff"/>
<rect x="426" y="140" width="2" height="4" fill="#fff"/>
<rect x="426" y="152" width="2" height="4" fill="#fff"/>
<rect x="430" y="140" width="2" height="4" fill="#fff"/>
<rect x="430" y="152" width="2" height="4" fill="#fff"/>
<rect x="435" y="140" width="2" height="4" fill="#fff"/>
<rect x="435" y="152" width="2" height="4" fill="#fff"/>
<rect x="439" y="140" width="2" height="4" fill="#fff"/>
<rect x="439" y="152" width="2" height="4" fill="#fff"/>
<rect x="444" y="140" width="2" height="4" fill="#fff"/>
<rect x="444" y="152" width="2" height="4" fill="#fff"/>
<rect x="449" y="140" width="2" height="4" fill="#fff"/>
<rect x="449" y="152" width="2" height="4" fill="#fff"/>
<rect x="453" y="140" width="2" height="4" fill="#fff"/>
<rect x="453" y="152" width="2" height="4" fill="#fff"/>
<rect x="399" y="146" width="59" height="4" fill="#fff"/>
<rect x="425" y="145" width="5" height="6" fill="#000"/>
<rect x="462" y="138" width="71" height="20" fill="#000"/>
<rect x="465" y="140" width="2" height="4" fill="#fff"/>
<rect x="465" y="152" width="2" height="4" fill="#fff"/>
<rect x="470" y="140" width="2" height="4" fill="#fff"/>
<rect x="470" y="152" width="2" height="4" fill="#fff"/>
<rect x="474" y="140" width="2" height="4" fill="#fff"/>
<rect x="474" y="152" width="2" height="4" fill="#fff"/>
<rect x="479" y="140" width="2" height="4" fill="#fff"/>
<rect x="479" y="152" width="2" height="4" fill="#fff"/>
<rect x="483" y="140" width="2" height="4" fill="#fff"/>
<rect x="483" y="152" width="2" height="4" fill="#fff"/>
<rect x="488" y="140" width="2" height="4" fill="#fff"/>
<rect x="488" y="152" width="2" height="4" fill="#fff"/>
<rect x="493" y="140" width="2" height="4" fill="#fff"/>
<rect x="493" y="152" width="2" height="4" fill="#fff"/>
<rect x="497" y="140" width="2" height="4" fill="#fff"/>
<rect x="497" y="152" width="2" height="4" fill="#fff"/>
<rect x="502" y="140" width="2" height="4" fill="#fff"/>
<rect x="502" y="152" width="2" height="4" fill="#fff"/>
<rect x="506" y="140" width="2" height="4" fill="#fff"/>
<rect x="506" y="152" width="2" height="4" fill="#fff"/>
<rect x="511" y="140" width="2" height="4" fill="#fff"/>
<rect x="511" y="152" width="2" height="4" fill="#fff"/>
<rect x="516" y="140" width="2" height="4" fill="#fff"/>
<rect x="516" y="152" width="2" height="4" fill="#fff"/>
<rect x="520" y="140" width="2" height="4" fill="#fff"/>
<rect x="520" y="152" width="2" height="4" fill="#fff"/>
<rect x="525" y="140" width="2" height="4" fill="#fff"/>
<rect x="525" y="152" width="2" height="4" fill="#fff"/>
<rect x="466" y="146" width="63" height="4" fill="#fff"/>
<rect x="494" y="145" width="5" height="6" fill="#000"/>
<rect x="395" y="159" width="67" height="20" fill="#000"/>
<rect x="398" y="161" width="2" height="4" fill="#fff"/>
<rect x="398" y="173" width="2" height="4" fill="#fff"/>
<rect x="403" y="161" width="2" height="4" fill="#fff"/>
<rect x="403" y="173" width="2" height="4" fill="#fff"/>
<rect x="407" y="161" width="2" height="4" fill="#fff"/>
<rect x="407" y="173" width="2" height="4" fill="#fff"/>
<rect x="412" y="161" width="2" height="4" fill="#fff"/>
<rect x="412" y="173" width="2" height="4" fill="#fff"/>
<rect x="416" y="161" width="2" height="4" fill="#fff"/>
<rect x="416" y="173" width="2" height="4" fill="#fff"/>
<rect x="421" y="161" width="2" height="4" fill="#fff"/>
<rect x="421" y="173" width="2" height="4" fill="#fff"/>
<rect x="426" y="161" width="2" height="4" fill="#fff"/>
<rect x="426" y="173" width="2" height="4" fill="#fff"/>
<rect x="430" y="161" width="2" height="4" fill="#fff"/>
<rect x="430" y="173" width="2" height="4" fill="#fff"/>
<rect x="435" y="161" width="2" height="4" fill="#fff"/>
<rect x="435" y="173" width="2" height="4" fill="#fff"/>
<rect x="439" y="161" width="2" height="4" fill="#fff"/>
<rect x="439" y="173" width="2" height="4" fill="#fff"/>
<rect x="444" y="161" width="2" height="4" fill="#fff"/>
<rect x="444" y="173" width="2" height="4" fill="#fff"/>
<rect x="449" y="161" width="2" height="4" fill="#fff"/>
<rect x="449" y="173" width="2" height="4" fill="#fff"/>
<rect x="453" y="161" width="2" height="4" fill="#fff"/>
<rect x="453" y="173" width="2" height="4" fill="#fff"/>
<rect x="399" y="167" width="59" height="4" fill="#fff"/>
<rect x="425" y="166" width="5" height="6" fill="#000"/>
<rect x="465" y="159" width="68" height="20" fill="#000"/>
<rect x="468" y="161" width="2" height="4" fill="#fff"/>
<rect x="468" y="173" width="2" height="4" fill="#fff"/>
<rect x="473" y="161" width="2" height="4" fill="#fff"/>
<rect x="473" y="173" width="2" height="4" fill="#fff"/>
<rect x="477" y="161" width="2" height="4" fill="#fff"/>
<rect x="477" y="173" width="2" height="4" fill="#fff"/>
<rect x="482" y="161" width="2" height="4" fill="#fff"/>
<rect x="482" y="173" width="2" height="4" fill="#fff"/>
<rect x="486" y="161" width="2" height="4" fill="#fff"/>
<rect x="486" y="173" width="2" height="4" fill="#fff"/>
<rect x="491" y="161" width="2" height="4" fill="#fff"/>
<rect x="491" y="173" width="2" height="4" fill="#fff"/>
<rect x="496" y="161" width="2" height="4" fill="#fff"/>
<rect x="496" y="173" width="2" height="4" fill="#fff"/>
<rect x="500" y="161" width="2" height="4" fill="#fff"/>
<rect x="500" y="173" width="2" height="4" fill="#fff"/>
<rect x="505" y="161" width="2" height="4" fill="#fff"/>
<rect x="505" y="173" width="2" height="4" fill="#fff"/>
<rect x="509" y="161" width="2" height="4" fill="#fff"/>
<rect x="509" y="173" width="2" height="4" fill="#fff"/>
<rect x="514" y="161" width="2" height="4" fill="#fff"/>
<rect x="514" y="173" width="2" height="4" fill="#fff"/>
<rect x="519" y="161" width="2" height="4" fill="#fff"/>
<rect x="519" y="173" width="2" height="4" fill="#fff"/>
<rect x="523" y="161" width="2" height="4" fill="#fff"/>
<rect x="523" y="173" width="2" height="4" fill="#fff"/>
<rect x="469" y="167" width="60" height="4" fill="#fff"/>
<rect x="496" y="166" width="5" height="6" fill="#000"/>
<rect x="463" y="137" width="1" height="2" fill="#fff"/>
<rect x="444.2" y="118.2" width="41" height="12.7" fill="#000"/>
<rect x="446.2" y="119.2" width="37" height="10.7" fill="#fff"/>
<text x="448.15" y="127.60" font-size="11.20" fill="#000" textLength="33.16" lengthAdjust="spacingAndGlyphs" filter="url(#th)" >VIDEO</text>
<rect x="439.7" y="141" width="48.7" height="13.7" fill="#000"/>
<rect x="441.7" y="142.5" width="44.7" height="10.7" fill="#fff"/>
<text x="444.12" y="151.80" font-size="11.20" fill="#000" textLength="38.21" lengthAdjust="spacingAndGlyphs" filter="url(#th)" >BANK 1</text>
<rect x="313" y="339" width="10" height="81" fill="#000"/>
<rect x="318" y="341" width="1" height="77" fill="#fff"/>
<rect x="314" y="340" width="8" height="1" fill="#fff"/>
<rect x="314" y="345" width="8" height="1" fill="#fff"/>
<rect x="314" y="350" width="8" height="1" fill="#fff"/>
<rect x="314" y="355" width="8" height="1" fill="#fff"/>
<rect x="314" y="359" width="8" height="1" fill="#fff"/>
<rect x="314" y="364" width="8" height="1" fill="#fff"/>
<rect x="314" y="369" width="8" height="1" fill="#fff"/>
<rect x="314" y="373" width="8" height="1" fill="#fff"/>
<rect x="314" y="378" width="8" height="1" fill="#fff"/>
<rect x="314" y="383" width="8" height="1" fill="#fff"/>
<rect x="314" y="387" width="8" height="1" fill="#fff"/>
<rect x="314" y="392" width="8" height="1" fill="#fff"/>
<rect x="314" y="397" width="8" height="1" fill="#fff"/>
<rect x="314" y="402" width="8" height="1" fill="#fff"/>
<rect x="314" y="406" width="8" height="1" fill="#fff"/>
<rect x="314" y="411" width="8" height="1" fill="#fff"/>
<rect x="314" y="416" width="8" height="1" fill="#fff"/>
<rect x="330" y="325" width="11" height="95" fill="#000"/>
<rect x="335" y="327" width="1" height="91" fill="#fff"/>
<rect x="331" y="326" width="9" height="1" fill="#fff"/>
<rect x="331" y="331" width="9" height="1" fill="#fff"/>
<rect x="331" y="336" width="9" height="1" fill="#fff"/>
<rect x="331" y="341" width="9" height="1" fill="#fff"/>
<rect x="331" y="345" width="9" height="1" fill="#fff"/>
<rect x="331" y="350" width="9" height="1" fill="#fff"/>
<rect x="331" y="355" width="9" height="1" fill="#fff"/>
<rect x="331" y="359" width="9" height="1" fill="#fff"/>
<rect x="331" y="364" width="9" height="1" fill="#fff"/>
<rect x="331" y="369" width="9" height="1" fill="#fff"/>
<rect x="331" y="373" width="9" height="1" fill="#fff"/>
<rect x="331" y="378" width="9" height="1" fill="#fff"/>
<rect x="331" y="383" width="9" height="1" fill="#fff"/>
<rect x="331" y="388" width="9" height="1" fill="#fff"/>
<rect x="331" y="392" width="9" height="1" fill="#fff"/>
<rect x="331" y="397" width="9" height="1" fill="#fff"/>
<rect x="331" y="402" width="9" height="1" fill="#fff"/>
<rect x="331" y="406" width="9" height="1" fill="#fff"/>
<rect x="331" y="411" width="9" height="1" fill="#fff"/>
<rect x="331" y="416" width="9" height="1" fill="#fff"/>
<rect x="288.20" y="320.20" width="25.80" height="12.10" rx="2.5" fill="#fff" stroke="#000" stroke-width="2" shape-rendering="auto"/>
<text x="289.94" y="330.00" font-size="11.20" fill="#000" textLength="22.15" lengthAdjust="spacingAndGlyphs" filter="url(#th)" >CN8</text>
<polygon points="311,333 314,333 321,339 318,339" fill="#000"/>
<rect x="341" y="377" width="5" height="3" fill="#000"/>
<polygon points="354,374 350,376 346,377.3 346,379.7 350,381 354,383" fill="#000"/>
<polygon points="355,377.9 349,378.2 349,378.8 355,379.1" fill="#fff"/>
<rect x="353.20" y="373.00" width="26.60" height="12.50" rx="2.5" fill="#fff" stroke="#000" stroke-width="2" shape-rendering="auto"/>
<text x="355.67" y="382.90" font-size="11.20" fill="#000" textLength="20.65" lengthAdjust="spacingAndGlyphs" filter="url(#th)" >CN7</text>
<rect x="391" y="415" width="90" height="19" fill="#000"/>
<rect x="392" y="416" width="88" height="17" fill="#fff"/>
<rect x="394" y="417" width="4" height="3" fill="#000"/>
<rect x="393" y="423" width="6" height="2" fill="#000"/>
<rect x="401" y="417" width="5" height="3" fill="#000"/>
<rect x="400" y="423" width="6" height="2" fill="#000"/>
<rect x="408" y="417" width="5" height="3" fill="#000"/>
<rect x="408" y="423" width="6" height="2" fill="#000"/>
<rect x="415" y="417" width="5" height="3" fill="#000"/>
<rect x="415" y="423" width="6" height="2" fill="#000"/>
<rect x="423" y="417" width="5" height="3" fill="#000"/>
<rect x="422" y="423" width="6" height="2" fill="#000"/>
<rect x="430" y="417" width="5" height="3" fill="#000"/>
<rect x="429" y="423" width="6" height="2" fill="#000"/>
<rect x="437" y="417" width="5" height="3" fill="#000"/>
<rect x="437" y="423" width="6" height="2" fill="#000"/>
<rect x="444" y="417" width="5" height="3" fill="#000"/>
<rect x="444" y="423" width="6" height="2" fill="#000"/>
<rect x="452" y="417" width="5" height="3" fill="#000"/>
<rect x="451" y="423" width="6" height="2" fill="#000"/>
<rect x="459" y="417" width="5" height="3" fill="#000"/>
<rect x="458" y="423" width="6" height="2" fill="#000"/>
<rect x="466" y="417" width="5" height="3" fill="#000"/>
<rect x="466" y="423" width="6" height="2" fill="#000"/>
<rect x="473" y="417" width="5" height="3" fill="#000"/>
<rect x="473" y="423" width="6" height="2" fill="#000"/>
<rect x="392" y="419" width="88" height="1" fill="#000"/>
<rect x="396" y="426" width="6" height="6" fill="#000"/>
<rect x="397" y="427" width="4" height="4" fill="#fff"/>
<rect x="403" y="426" width="6" height="6" fill="#000"/>
<rect x="404" y="427" width="4" height="4" fill="#fff"/>
<rect x="410" y="426" width="6" height="6" fill="#000"/>
<rect x="411" y="427" width="4" height="4" fill="#fff"/>
<rect x="418" y="426" width="6" height="6" fill="#000"/>
<rect x="419" y="427" width="4" height="4" fill="#fff"/>
<rect x="425" y="426" width="6" height="6" fill="#000"/>
<rect x="426" y="427" width="4" height="4" fill="#fff"/>
<rect x="433" y="426" width="6" height="6" fill="#000"/>
<rect x="434" y="427" width="4" height="4" fill="#fff"/>
<rect x="440" y="426" width="6" height="6" fill="#000"/>
<rect x="441" y="427" width="4" height="4" fill="#fff"/>
<rect x="448" y="426" width="6" height="6" fill="#000"/>
<rect x="449" y="427" width="4" height="4" fill="#fff"/>
<rect x="455" y="426" width="6" height="6" fill="#000"/>
<rect x="456" y="427" width="4" height="4" fill="#fff"/>
<rect x="463" y="426" width="6" height="6" fill="#000"/>
<rect x="464" y="427" width="4" height="4" fill="#fff"/>
<rect x="470" y="426" width="6" height="6" fill="#000"/>
<rect x="471" y="427" width="4" height="4" fill="#fff"/>
<rect x="391" y="427" width="1" height="3" fill="#fff"/>
<rect x="480" y="427" width="1" height="3" fill="#fff"/>
</svg></body></html>
